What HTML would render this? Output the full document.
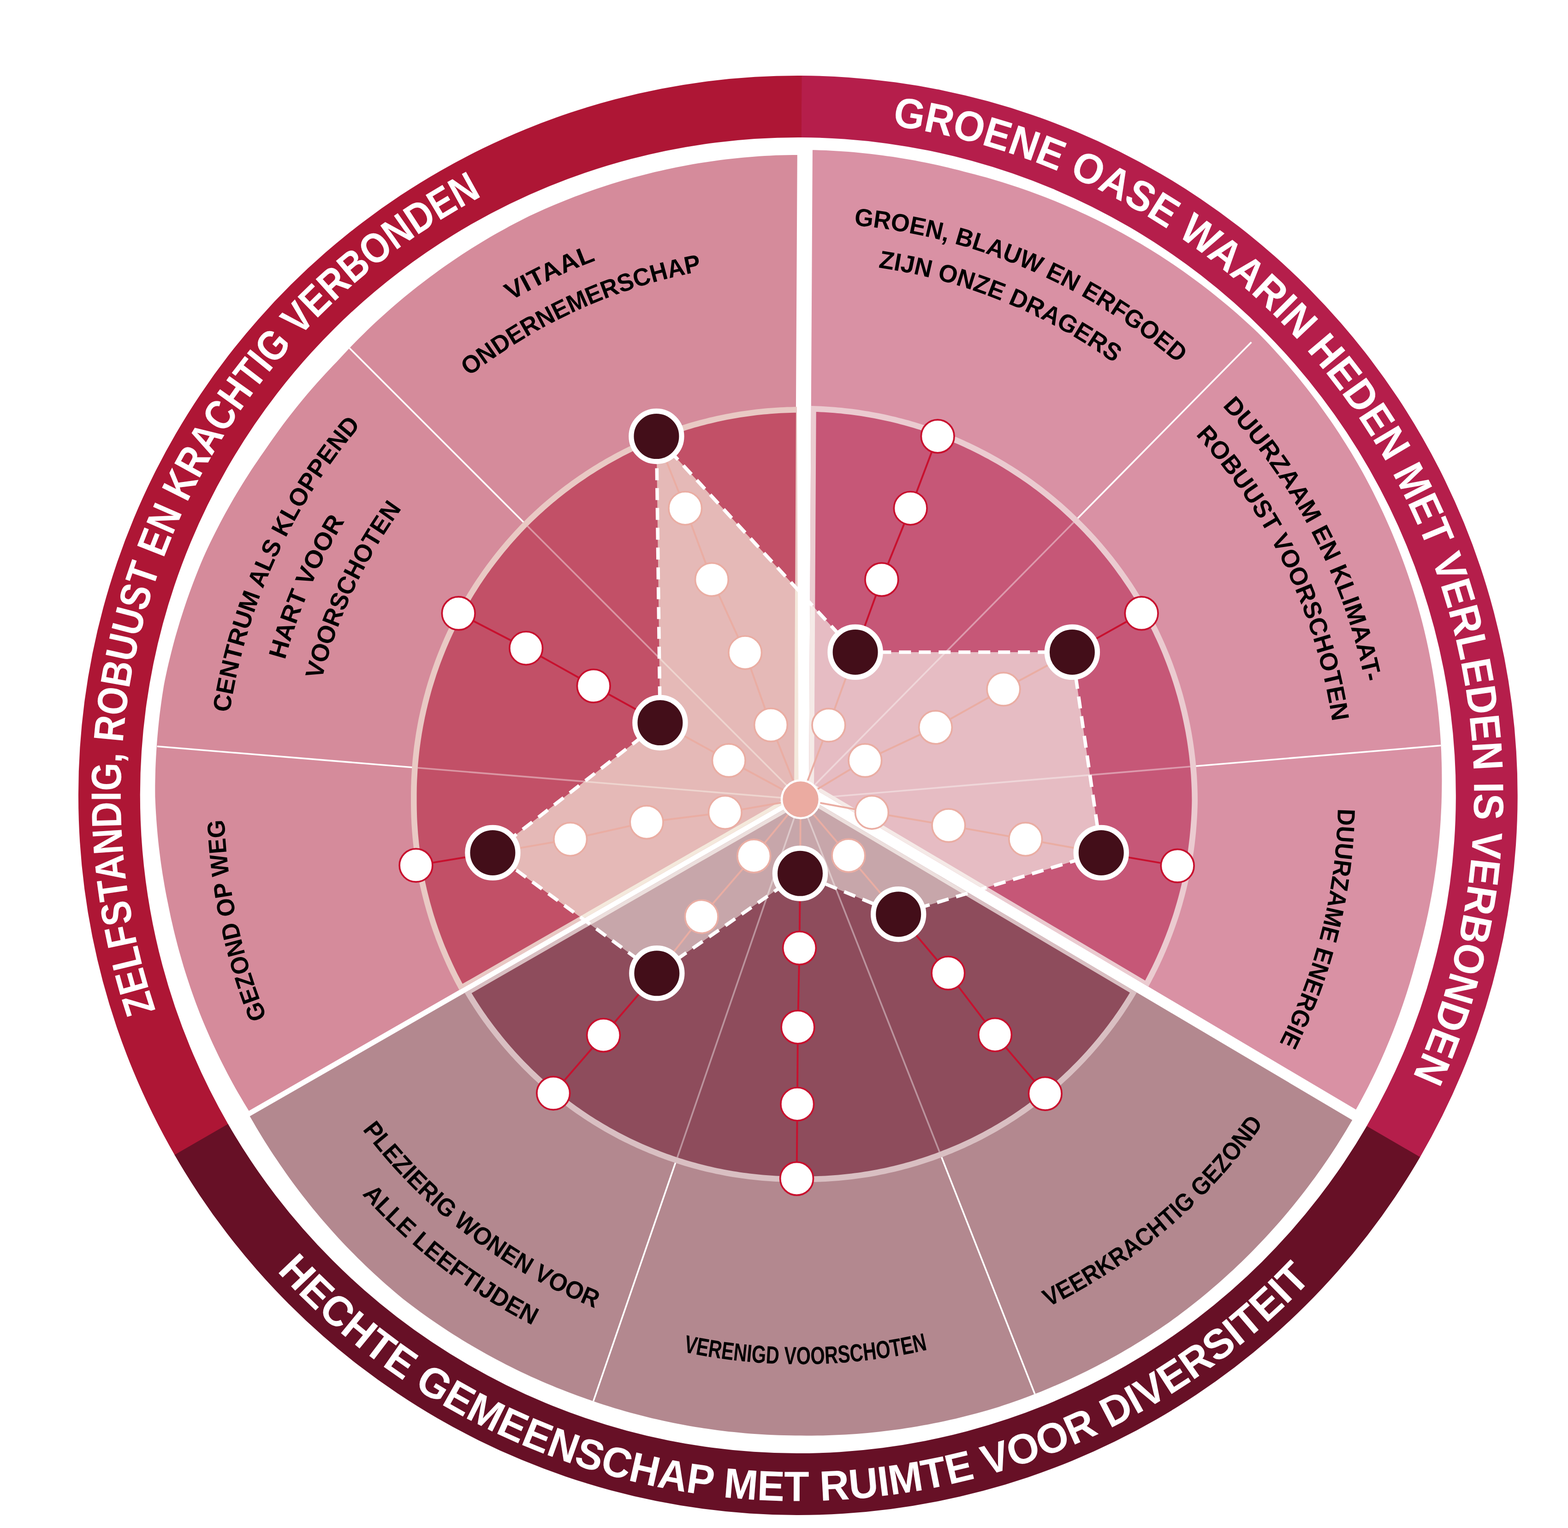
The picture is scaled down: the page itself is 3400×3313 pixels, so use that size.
<!DOCTYPE html>
<html lang="nl"><head><meta charset="utf-8"><title>Voorschoten ambities</title>
<style>html,body{margin:0;padding:0;background:#fff}svg{display:block}text{font-family:"Liberation Sans",Arial,sans-serif;font-weight:bold}</style></head><body>
<svg xmlns="http://www.w3.org/2000/svg" width="3400" height="3313" viewBox="0 0 3400 3313">
<rect width="3400" height="3313" fill="#fff"/>
<g id="ring">
<path d="M379.4,2505.4 A1560.4 1560.4 0 0 1 1739.3,164.1 L1738.5,298 A1426.5 1426.5 0 0 0 495.3,2438.4 Z" fill="#AE1635"/>
<path d="M1738.5,164.1 A1560.4 1560.4 0 0 1 3078.9,2509.4 L2963.2,2442.1 A1426.5 1426.5 0 0 0 1737.8,298 Z" fill="#B51E4B"/>
<path d="M3079.3,2508.7 A1560.4 1560.4 0 0 1 378.5,2504 L494.5,2437.1 A1426.5 1426.5 0 0 0 2963.6,2441.4 Z" fill="#671026"/>
</g>
<g id="pink">
<polygon points="1728.8,336 1718.5,336 1706.5,336.2 1694.4,336.5 1682.3,336.8 1670.3,337.4 1658.2,338 1646.2,338.8 1634.1,339.7 1622.1,340.7 1610.1,341.7 1598.1,342.9 1586.1,344.2 1574.1,345.6 1562.1,347.1 1550.2,348.7 1538.2,350.4 1526.3,352.2 1514.4,354.1 1502.5,356.1 1490.7,358.2 1478.8,360.5 1467,362.8 1455.2,365.2 1443.4,367.7 1431.6,370.4 1419.9,373.1 1408.2,375.9 1396.5,378.9 1384.8,381.9 1373.2,385 1361.6,388.3 1350,391.6 1338.4,395.1 1326.9,398.6 1315.4,402.2 1304,406 1292.6,409.8 1281.2,413.7 1269.8,417.8 1258.5,421.9 1247.3,426.1 1236,430.5 1224.8,434.9 1213.7,439.4 1202.6,444 1191.5,448.8 1180.4,453.6 1169.5,458.5 1158.5,463.5 1147.6,468.6 1136.8,473.9 1126.1,479.4 1115.4,485 1104.8,490.6 1094.3,496.4 1083.7,502.2 1073.3,508.1 1062.9,514.1 1052.5,520.3 1042.2,526.4 1032,532.7 1021.8,539.1 1011.7,545.6 1001.6,552.1 991.6,558.7 981.7,565.5 971.8,572.3 962,579.1 952.2,586.1 942.5,593.2 932.9,600.3 923.3,607.4 913.8,614.7 904.3,622.1 894.9,629.5 885.6,637 876.3,644.6 867.1,652.2 858,660 849,667.8 840,675.7 831.1,683.7 822.2,691.7 813.4,699.8 804.7,708 796.1,716.3 787.6,724.7 779.1,733.1 770.7,741.6 762.4,750.1 754.1,758.8 745.9,767.5 737.8,776.2 729.7,784.9 721.4,793.5 713.2,802.2 705,810.9 697,819.7 689,828.6 681.1,837.5 673.2,846.6 665.5,855.6 657.8,864.8 650.2,874 642.7,883.3 635.2,892.7 627.9,902.1 620.6,911.6 613.4,921.1 606.3,930.7 599.3,940.4 592.3,950.2 585.4,960 578.7,969.8 571.8,979.7 564.9,989.5 558.2,999.4 551.5,1009.3 544.8,1019.3 538.3,1029.4 531.9,1039.5 525.5,1049.7 519.2,1059.9 513,1070.2 506.9,1080.6 500.9,1091 495,1101.5 489.1,1112 483.4,1122.6 477.7,1133.3 472.2,1143.9 466.7,1154.7 461.3,1165.5 456,1176.3 450.8,1187.2 445.7,1198.2 440.8,1209.2 436.1,1220.3 431.5,1231.5 427,1242.7 422.6,1253.9 418.3,1265.2 414.1,1276.6 409.9,1287.9 405.9,1299.3 402,1310.8 398.2,1322.2 394.5,1333.8 390.8,1345.3 387.3,1356.9 383.9,1368.5 380.5,1380.1 377.3,1391.8 374.2,1403.5 371.2,1415.3 368.3,1427 365.4,1438.8 362.7,1450.6 360.1,1462.5 357.6,1474.3 355.3,1486.3 353.4,1498.2 351.5,1510.2 349.8,1522.2 348.2,1534.2 346.6,1546.3 345.2,1558.3 343.9,1570.4 342.7,1582.4 341.6,1594.5 340.6,1606.6 339.7,1618.7 338.9,1630.8 338.2,1642.9 337.6,1655 337.1,1667.1 336.8,1679.2 336.5,1691.3 336.3,1703.4 336.3,1715.6 336.4,1727.7 336.9,1739.8 337.5,1751.9 338.2,1764 339,1776.1 339.9,1788.1 340.9,1800.2 342,1812.2 343.2,1824.3 344.5,1836.3 346,1848.3 347.5,1860.3 349.1,1872.3 350.9,1884.2 352.7,1896.2 354.7,1908.1 356.7,1920 358.8,1931.8 361.1,1943.7 363.5,1955.5 365.9,1967.3 368.3,1979.1 370.8,1990.9 373.5,2002.6 376.2,2014.4 379,2026.1 382,2037.7 385,2049.4 388.1,2061 391.4,2072.6 394.7,2084.1 398.1,2095.7 401.7,2107.2 405.3,2118.6 409.1,2130 412.9,2141.4 416.8,2152.8 420.8,2164.1 425,2175.4 429.2,2186.6 433.5,2197.8 438,2208.9 442.6,2220 447.3,2231.1 452.1,2242.1 456.9,2253 461.9,2263.9 467,2274.8 472.1,2285.6 477.4,2296.4 482.7,2307.1 488.2,2317.8 493.7,2328.4 499.3,2338.9 505,2349.5 510.8,2359.9 516.7,2370.3 522.8,2380.6 528.9,2390.9 535,2401.1 539.6,2408.5 1721.5,1729.8" fill="#D58B9B"/>
<polygon points="2940.2,2405.8 2944.5,2398 2950.3,2387.4 2956,2376.8 2961.7,2366.1 2967.2,2355.4 2972.6,2344.6 2977.9,2333.7 2983.1,2322.9 2988.2,2311.9 2993.3,2301 2998.2,2289.9 3003,2278.9 3007.7,2267.8 3012.4,2256.6 3016.9,2245.5 3021.4,2234.2 3025.7,2223 3029.9,2211.7 3034.1,2200.4 3038.1,2189 3042.1,2177.6 3045.9,2166.2 3049.7,2154.7 3053.3,2143.2 3056.9,2131.7 3060.3,2120.1 3063.7,2108.5 3066.9,2096.9 3070.1,2085.3 3073.4,2073.7 3076.6,2062.1 3079.8,2050.4 3082.8,2038.7 3085.8,2027 3088.6,2015.3 3091.4,2003.5 3094,1991.7 3096.6,1979.9 3099,1968.1 3101.3,1956.2 3103.6,1944.3 3105.7,1932.4 3107.7,1920.5 3109.7,1908.6 3111.5,1896.6 3113.2,1884.6 3114.8,1872.6 3116.3,1860.6 3117.7,1848.6 3119,1836.5 3120.2,1824.5 3121.3,1812.4 3122.3,1800.3 3123.2,1788.3 3124,1776.2 3124.6,1764 3125.2,1751.9 3125.7,1739.8 3126,1727.7 3126.3,1715.5 3126.4,1703.4 3126.5,1691.3 3126.4,1679.1 3126.3,1667 3126,1654.8 3125.6,1642.7 3125.2,1630.5 3124.6,1618.4 3123.9,1606.3 3123.1,1594.1 3122.2,1582 3121.2,1569.9 3120.1,1557.7 3118.9,1545.6 3117.6,1533.5 3116.1,1521.4 3114.6,1509.4 3113,1497.3 3111.2,1485.2 3109.4,1473.2 3107.4,1461.1 3105.4,1449.1 3103.2,1437.1 3100.9,1425.1 3098.6,1413.2 3096.1,1401.2 3093.5,1389.3 3090.8,1377.4 3088,1365.5 3085.1,1353.7 3082,1341.8 3078.8,1330.1 3075.5,1318.3 3072.2,1306.5 3068.7,1294.8 3065.1,1283.2 3061.4,1271.5 3057.6,1259.9 3053.7,1248.3 3049.7,1236.7 3045.6,1225.2 3041.4,1213.7 3037.1,1202.3 3032.7,1190.9 3028.2,1179.5 3023.6,1168.2 3018.9,1156.8 3014.1,1145.6 3009.2,1134.4 3004.2,1123.2 2999.1,1112 2993.9,1101 2988.6,1089.9 2983.2,1078.9 2977.8,1067.9 2972.2,1057 2966.5,1046.2 2960.7,1035.3 2954.9,1024.6 2948.9,1013.9 2942.8,1003.2 2936.6,992.7 2930.3,982.1 2923.9,971.7 2917.4,961.2 2910.8,950.9 2904.2,940.6 2897.4,930.3 2890.6,920.1 2883.7,910 2876.6,899.9 2869.5,889.9 2862.3,880 2855.1,870.1 2847.7,860.3 2840.2,850.5 2832.7,840.8 2825.1,831.2 2817.4,821.6 2809.6,812.1 2801.7,802.7 2793.8,793.3 2785.7,784 2777.6,774.8 2769.4,765.7 2761.1,756.6 2752.8,747.6 2744.3,738.6 2735.8,729.8 2727.1,721.1 2718.2,712.6 2709.2,704.2 2700.1,695.9 2691,687.7 2681.8,679.6 2672.5,671.5 2663.1,663.6 2653.7,655.7 2644.2,647.9 2634.7,640.2 2625.1,632.5 2615.4,625 2605.7,617.5 2595.9,610.2 2586,602.9 2576.1,595.7 2566.1,588.5 2556,581.5 2545.9,574.6 2535.8,567.7 2525.5,561 2515.3,554.3 2504.9,547.7 2494.5,541.3 2484.1,534.9 2473.6,528.6 2463,522.4 2452.4,516.2 2441.8,510.2 2431.1,504.3 2420.3,498.5 2409.5,492.7 2398.7,487.1 2387.8,481.6 2376.8,476.1 2365.8,470.8 2354.8,465.5 2343.7,460.4 2332.6,455.3 2321.4,450.4 2310.2,445.5 2299,440.8 2287.7,436.1 2276.4,431.5 2265,427.1 2253.6,422.7 2242.2,418.5 2230.8,414.3 2219.3,410.2 2207.7,406.3 2196.2,402.4 2184.6,398.7 2173,395 2161.3,391.4 2149.6,388 2137.9,384.6 2126.2,381.4 2114.4,378.3 2102.6,375.2 2090.8,372.2 2079.1,369.1 2067.3,366.2 2055.5,363.3 2043.6,360.5 2031.8,357.8 2019.9,355.2 2008,352.8 1996,350.4 1984.1,348.1 1972.1,346 1960.1,343.9 1948.1,342 1936.1,340.1 1924,338.4 1912,336.7 1899.9,335.2 1887.8,333.8 1875.7,332.5 1863.6,331.2 1851.5,330.1 1839.4,329.1 1827.3,328.2 1815.1,327.4 1803,326.7 1790.8,326.1 1778.7,325.7 1766.5,325.3 1761.9,325.2 1754.1,1703.6" fill="#D991A4"/>
<polygon points="541.7,2420.3 543.4,2423.3 549.4,2433.6 555.4,2444 561.6,2454.3 567.8,2464.5 574.1,2474.7 580.5,2484.8 587,2494.9 593.6,2504.9 600.3,2514.8 607,2524.8 613.8,2534.6 620.7,2544.5 627.6,2554.2 634.7,2563.9 641.8,2573.6 649.1,2583.2 656.4,2592.7 663.8,2602.1 671.2,2611.5 678.8,2620.9 686.4,2630.1 694.2,2639.4 702,2648.5 709.9,2657.6 717.8,2666.6 725.9,2675.5 734,2684.4 742.2,2693.2 750.5,2701.9 758.8,2710.6 767.3,2719.1 775.8,2727.7 784.4,2736.1 793,2744.5 801.8,2752.8 810.6,2761 819.4,2769.1 828.4,2777.2 837.4,2785.2 846.5,2793.1 855.7,2800.9 864.9,2808.7 874.2,2816.4 883.7,2823.8 893.3,2831.1 903,2838.3 912.7,2845.4 922.5,2852.4 932.4,2859.4 942.3,2866.3 952.2,2873.1 962.3,2879.8 972.4,2886.4 982.5,2892.9 992.7,2899.3 1002.9,2905.7 1013.3,2911.9 1023.6,2918.1 1034,2924.1 1044.5,2930.1 1055,2936 1065.6,2941.8 1076.2,2947.5 1086.9,2953.1 1097.6,2958.7 1108.4,2964.1 1119.2,2969.4 1130,2974.7 1140.9,2979.8 1151.9,2984.9 1162.9,2989.8 1173.9,2994.7 1185,2999.4 1196.1,3004.1 1207.2,3008.7 1218.4,3013.1 1229.7,3017.5 1240.9,3021.8 1252.2,3026 1263.5,3030.1 1274.9,3034.1 1286.3,3038.1 1297.7,3041.9 1309.2,3045.7 1320.7,3049.3 1332.2,3052.9 1343.7,3056.3 1355.3,3059.7 1366.9,3062.9 1378.6,3066.1 1390.2,3069.1 1401.9,3072 1413.6,3074.9 1425.4,3077.6 1437.1,3080.3 1448.9,3082.8 1460.7,3085.2 1472.6,3087.5 1484.4,3089.8 1496.3,3091.9 1508.2,3093.9 1520.1,3095.8 1532,3097.6 1543.9,3099.3 1555.9,3101 1567.9,3102.5 1579.8,3103.9 1591.8,3105.1 1603.8,3106.3 1615.8,3107.4 1627.9,3108.4 1639.9,3109.3 1651.9,3110 1664,3110.7 1676,3111.3 1688.1,3111.7 1700.1,3112.1 1712.2,3112.3 1724.3,3112.5 1736.3,3112.6 1748.4,3112.7 1760.5,3112.7 1772.5,3112.6 1784.6,3112.4 1796.7,3112.1 1808.8,3111.6 1820.8,3111.1 1832.9,3110.5 1844.9,3109.7 1857,3108.9 1869.1,3107.9 1881.1,3106.9 1893.1,3105.7 1905.2,3104.5 1917.2,3103.1 1929.2,3101.6 1941.2,3100.1 1953.2,3098.4 1965.1,3096.6 1977.1,3094.7 1989,3092.7 2000.9,3090.6 2012.8,3088.4 2024.7,3086.1 2036.6,3083.7 2048.5,3081.2 2060.3,3078.6 2072.1,3075.9 2083.9,3073 2095.6,3070.1 2107.4,3067.1 2119.1,3064 2130.8,3060.7 2142.4,3057.4 2154.1,3054 2165.7,3050.4 2177.2,3046.6 2188.7,3042.7 2200.1,3038.7 2211.6,3034.7 2223,3030.5 2234.3,3026.2 2245.6,3021.8 2256.9,3017.4 2268.1,3012.8 2279.3,3008.1 2290.5,3003.3 2301.6,2998.5 2312.7,2993.5 2323.7,2988.5 2334.7,2983.3 2345.7,2978.1 2356.6,2972.7 2367.4,2967.3 2378.2,2961.7 2389,2956.1 2399.7,2950.4 2410.4,2944.6 2421,2938.7 2431.5,2932.7 2442,2926.6 2452.5,2920.4 2462.9,2914.1 2473.2,2907.8 2483.5,2901.3 2493.7,2894.8 2503.9,2888.1 2514,2881.4 2524.1,2874.6 2534.1,2867.7 2543.9,2860.6 2553.7,2853.4 2563.4,2846.1 2573.1,2838.7 2582.7,2831.3 2592.2,2823.8 2601.7,2816.2 2611.1,2808.5 2620.4,2800.7 2629.6,2792.8 2638.8,2784.9 2647.9,2776.9 2657,2768.8 2666,2760.6 2674.9,2752.4 2683.7,2744.1 2692.5,2735.7 2701.1,2727.2 2709.7,2718.7 2718.3,2710 2726.7,2701.3 2735.1,2692.6 2743.4,2683.7 2751.7,2674.8 2759.8,2665.8 2767.9,2656.8 2775.9,2647.7 2783.8,2638.5 2791.6,2629.2 2799.3,2619.9 2807,2610.5 2814.6,2601.1 2822.1,2591.5 2829.5,2582 2836.9,2572.3 2844.1,2562.6 2851.3,2552.9 2858.4,2543 2865.4,2533.2 2872.3,2523.2 2879.2,2513.2 2885.9,2503.2 2892.6,2493 2899.1,2482.9 2905.6,2472.6 2912,2462.3 2918.3,2452 2924.5,2441.6 2930.6,2431.2 2932.2,2428.5 1748,1727.5" fill="#B3888F"/>
</g>
<defs>
<clipPath id="cpL"><polygon points="1728.8,336 1718.5,336 1706.5,336.2 1694.4,336.5 1682.3,336.8 1670.3,337.4 1658.2,338 1646.2,338.8 1634.1,339.7 1622.1,340.7 1610.1,341.7 1598.1,342.9 1586.1,344.2 1574.1,345.6 1562.1,347.1 1550.2,348.7 1538.2,350.4 1526.3,352.2 1514.4,354.1 1502.5,356.1 1490.7,358.2 1478.8,360.5 1467,362.8 1455.2,365.2 1443.4,367.7 1431.6,370.4 1419.9,373.1 1408.2,375.9 1396.5,378.9 1384.8,381.9 1373.2,385 1361.6,388.3 1350,391.6 1338.4,395.1 1326.9,398.6 1315.4,402.2 1304,406 1292.6,409.8 1281.2,413.7 1269.8,417.8 1258.5,421.9 1247.3,426.1 1236,430.5 1224.8,434.9 1213.7,439.4 1202.6,444 1191.5,448.8 1180.4,453.6 1169.5,458.5 1158.5,463.5 1147.6,468.6 1136.8,473.9 1126.1,479.4 1115.4,485 1104.8,490.6 1094.3,496.4 1083.7,502.2 1073.3,508.1 1062.9,514.1 1052.5,520.3 1042.2,526.4 1032,532.7 1021.8,539.1 1011.7,545.6 1001.6,552.1 991.6,558.7 981.7,565.5 971.8,572.3 962,579.1 952.2,586.1 942.5,593.2 932.9,600.3 923.3,607.4 913.8,614.7 904.3,622.1 894.9,629.5 885.6,637 876.3,644.6 867.1,652.2 858,660 849,667.8 840,675.7 831.1,683.7 822.2,691.7 813.4,699.8 804.7,708 796.1,716.3 787.6,724.7 779.1,733.1 770.7,741.6 762.4,750.1 754.1,758.8 745.9,767.5 737.8,776.2 729.7,784.9 721.4,793.5 713.2,802.2 705,810.9 697,819.7 689,828.6 681.1,837.5 673.2,846.6 665.5,855.6 657.8,864.8 650.2,874 642.7,883.3 635.2,892.7 627.9,902.1 620.6,911.6 613.4,921.1 606.3,930.7 599.3,940.4 592.3,950.2 585.4,960 578.7,969.8 571.8,979.7 564.9,989.5 558.2,999.4 551.5,1009.3 544.8,1019.3 538.3,1029.4 531.9,1039.5 525.5,1049.7 519.2,1059.9 513,1070.2 506.9,1080.6 500.9,1091 495,1101.5 489.1,1112 483.4,1122.6 477.7,1133.3 472.2,1143.9 466.7,1154.7 461.3,1165.5 456,1176.3 450.8,1187.2 445.7,1198.2 440.8,1209.2 436.1,1220.3 431.5,1231.5 427,1242.7 422.6,1253.9 418.3,1265.2 414.1,1276.6 409.9,1287.9 405.9,1299.3 402,1310.8 398.2,1322.2 394.5,1333.8 390.8,1345.3 387.3,1356.9 383.9,1368.5 380.5,1380.1 377.3,1391.8 374.2,1403.5 371.2,1415.3 368.3,1427 365.4,1438.8 362.7,1450.6 360.1,1462.5 357.6,1474.3 355.3,1486.3 353.4,1498.2 351.5,1510.2 349.8,1522.2 348.2,1534.2 346.6,1546.3 345.2,1558.3 343.9,1570.4 342.7,1582.4 341.6,1594.5 340.6,1606.6 339.7,1618.7 338.9,1630.8 338.2,1642.9 337.6,1655 337.1,1667.1 336.8,1679.2 336.5,1691.3 336.3,1703.4 336.3,1715.6 336.4,1727.7 336.9,1739.8 337.5,1751.9 338.2,1764 339,1776.1 339.9,1788.1 340.9,1800.2 342,1812.2 343.2,1824.3 344.5,1836.3 346,1848.3 347.5,1860.3 349.1,1872.3 350.9,1884.2 352.7,1896.2 354.7,1908.1 356.7,1920 358.8,1931.8 361.1,1943.7 363.5,1955.5 365.9,1967.3 368.3,1979.1 370.8,1990.9 373.5,2002.6 376.2,2014.4 379,2026.1 382,2037.7 385,2049.4 388.1,2061 391.4,2072.6 394.7,2084.1 398.1,2095.7 401.7,2107.2 405.3,2118.6 409.1,2130 412.9,2141.4 416.8,2152.8 420.8,2164.1 425,2175.4 429.2,2186.6 433.5,2197.8 438,2208.9 442.6,2220 447.3,2231.1 452.1,2242.1 456.9,2253 461.9,2263.9 467,2274.8 472.1,2285.6 477.4,2296.4 482.7,2307.1 488.2,2317.8 493.7,2328.4 499.3,2338.9 505,2349.5 510.8,2359.9 516.7,2370.3 522.8,2380.6 528.9,2390.9 535,2401.1 539.6,2408.5 1721.5,1729.8"/></clipPath>
<clipPath id="cdL"><polygon points="1726,894.7 1721.6,894.8 1714.3,895 1707,895.2 1699.8,895.5 1692.5,895.8 1685.2,896.3 1677.9,896.7 1670.7,897.3 1663.4,897.9 1656.1,898.6 1648.9,899.3 1641.7,900.1 1634.4,901 1627.2,901.9 1620,902.9 1612.8,903.9 1605.6,905 1598.4,906.2 1591.2,907.5 1584,908.8 1576.9,910.1 1569.7,911.5 1562.6,913 1555.5,914.6 1548.4,916.2 1541.3,917.9 1534.2,919.6 1527.1,921.4 1520.1,923.2 1513.1,925.2 1506.1,927.1 1499.1,929.2 1492.1,931.3 1485.1,933.4 1478.2,935.7 1471.3,937.9 1464.4,940.3 1457.5,942.7 1450.7,945.1 1443.8,947.7 1437,950.2 1430.2,952.9 1423.5,955.6 1416.7,958.3 1410,961.2 1403.3,964 1396.6,967 1390,969.9 1383.4,973 1376.8,976.1 1370.2,979.3 1363.7,982.5 1357.2,985.7 1350.7,989.1 1344.3,992.5 1337.9,995.9 1331.5,999.4 1325.1,1003 1318.8,1006.6 1312.5,1010.2 1306.2,1013.9 1300,1017.7 1293.8,1021.5 1287.7,1025.4 1281.5,1029.3 1275.4,1033.3 1269.4,1037.4 1263.4,1041.5 1257.4,1045.6 1251.4,1049.8 1245.5,1054 1239.6,1058.3 1233.8,1062.7 1228,1067.1 1222.2,1071.5 1216.5,1076 1210.8,1080.6 1205.2,1085.2 1199.6,1089.8 1194,1094.5 1188.5,1099.3 1183,1104.1 1177.6,1108.9 1172.2,1113.8 1166.8,1118.7 1161.5,1123.7 1156.2,1128.7 1151,1133.8 1145.8,1138.9 1140.7,1144.1 1135.7,1149.3 1130.6,1154.6 1125.7,1159.9 1120.8,1165.3 1115.9,1170.7 1111.1,1176.1 1106.3,1181.6 1101.6,1187.2 1096.9,1192.7 1092.3,1198.3 1087.7,1204 1083.2,1209.7 1078.7,1215.4 1074.2,1221.2 1069.9,1227 1065.5,1232.8 1061.3,1238.7 1057,1244.6 1052.9,1250.6 1048.7,1256.6 1044.7,1262.6 1040.6,1268.6 1036.7,1274.7 1032.8,1280.9 1028.9,1287 1025.1,1293.2 1021.4,1299.4 1017.7,1305.7 1014,1312 1010.4,1318.3 1006.9,1324.6 1003.4,1331 1000,1337.4 996.7,1343.9 993.4,1350.3 990.1,1356.8 986.9,1363.4 983.8,1369.9 980.7,1376.5 977.7,1383.1 974.7,1389.7 971.8,1396.4 969,1403 966.2,1409.7 963.5,1416.5 960.8,1423.2 958.2,1430 955.6,1436.8 953.1,1443.6 950.7,1450.4 948.3,1457.3 946,1464.1 943.8,1471 941.6,1478 939.4,1484.9 937.3,1491.8 935.3,1498.8 933.4,1505.8 931.5,1512.8 929.7,1519.8 927.9,1526.8 926.2,1533.9 924.5,1540.9 923,1548 921.4,1555.1 920,1562.2 918.6,1569.3 917.2,1576.4 916,1583.6 914.7,1590.7 913.6,1597.9 912.5,1605 911.5,1612.2 910.5,1619.4 909.6,1626.6 908.8,1633.7 908,1640.9 907.3,1648.2 906.6,1655.4 906,1662.6 905.5,1669.8 905.1,1677 904.7,1684.3 904.3,1691.5 904,1698.7 903.8,1706 903.7,1713.2 903.6,1720.4 903.6,1727.7 903.6,1734.9 903.6,1742.1 903.7,1749.4 903.8,1756.6 904,1763.8 904.2,1771.1 904.5,1778.3 904.9,1785.5 905.4,1792.8 905.9,1800 906.4,1807.2 907.1,1814.4 907.8,1821.6 908.5,1828.8 909.3,1836 910.2,1843.2 911.2,1850.4 912.2,1857.5 913.2,1864.7 914.4,1871.9 915.5,1879 916.8,1886.1 918.1,1893.3 919.5,1900.4 920.9,1907.5 922.4,1914.6 924,1921.6 925.6,1928.7 927.3,1935.8 929.1,1942.8 930.9,1949.8 932.7,1956.8 934.7,1963.8 936.7,1970.8 938.7,1977.7 940.8,1984.7 943,1991.6 945.2,1998.5 947.5,2005.3 949.9,2012.2 952.3,2019 954.8,2025.9 957.3,2032.7 959.9,2039.4 962.5,2046.2 965.2,2052.9 968,2059.6 970.8,2066.3 973.7,2073 976.7,2079.6 979.7,2086.2 982.7,2092.8 985.8,2099.3 989,2105.9 992.2,2112.4 995.5,2118.8 998.9,2125.3 1002.2,2131.7 1003,2133.1 1722,1720.3"/></clipPath>
<clipPath id="cpR"><polygon points="2940.2,2405.8 2944.5,2398 2950.3,2387.4 2956,2376.8 2961.7,2366.1 2967.2,2355.4 2972.6,2344.6 2977.9,2333.7 2983.1,2322.9 2988.2,2311.9 2993.3,2301 2998.2,2289.9 3003,2278.9 3007.7,2267.8 3012.4,2256.6 3016.9,2245.5 3021.4,2234.2 3025.7,2223 3029.9,2211.7 3034.1,2200.4 3038.1,2189 3042.1,2177.6 3045.9,2166.2 3049.7,2154.7 3053.3,2143.2 3056.9,2131.7 3060.3,2120.1 3063.7,2108.5 3066.9,2096.9 3070.1,2085.3 3073.4,2073.7 3076.6,2062.1 3079.8,2050.4 3082.8,2038.7 3085.8,2027 3088.6,2015.3 3091.4,2003.5 3094,1991.7 3096.6,1979.9 3099,1968.1 3101.3,1956.2 3103.6,1944.3 3105.7,1932.4 3107.7,1920.5 3109.7,1908.6 3111.5,1896.6 3113.2,1884.6 3114.8,1872.6 3116.3,1860.6 3117.7,1848.6 3119,1836.5 3120.2,1824.5 3121.3,1812.4 3122.3,1800.3 3123.2,1788.3 3124,1776.2 3124.6,1764 3125.2,1751.9 3125.7,1739.8 3126,1727.7 3126.3,1715.5 3126.4,1703.4 3126.5,1691.3 3126.4,1679.1 3126.3,1667 3126,1654.8 3125.6,1642.7 3125.2,1630.5 3124.6,1618.4 3123.9,1606.3 3123.1,1594.1 3122.2,1582 3121.2,1569.9 3120.1,1557.7 3118.9,1545.6 3117.6,1533.5 3116.1,1521.4 3114.6,1509.4 3113,1497.3 3111.2,1485.2 3109.4,1473.2 3107.4,1461.1 3105.4,1449.1 3103.2,1437.1 3100.9,1425.1 3098.6,1413.2 3096.1,1401.2 3093.5,1389.3 3090.8,1377.4 3088,1365.5 3085.1,1353.7 3082,1341.8 3078.8,1330.1 3075.5,1318.3 3072.2,1306.5 3068.7,1294.8 3065.1,1283.2 3061.4,1271.5 3057.6,1259.9 3053.7,1248.3 3049.7,1236.7 3045.6,1225.2 3041.4,1213.7 3037.1,1202.3 3032.7,1190.9 3028.2,1179.5 3023.6,1168.2 3018.9,1156.8 3014.1,1145.6 3009.2,1134.4 3004.2,1123.2 2999.1,1112 2993.9,1101 2988.6,1089.9 2983.2,1078.9 2977.8,1067.9 2972.2,1057 2966.5,1046.2 2960.7,1035.3 2954.9,1024.6 2948.9,1013.9 2942.8,1003.2 2936.6,992.7 2930.3,982.1 2923.9,971.7 2917.4,961.2 2910.8,950.9 2904.2,940.6 2897.4,930.3 2890.6,920.1 2883.7,910 2876.6,899.9 2869.5,889.9 2862.3,880 2855.1,870.1 2847.7,860.3 2840.2,850.5 2832.7,840.8 2825.1,831.2 2817.4,821.6 2809.6,812.1 2801.7,802.7 2793.8,793.3 2785.7,784 2777.6,774.8 2769.4,765.7 2761.1,756.6 2752.8,747.6 2744.3,738.6 2735.8,729.8 2727.1,721.1 2718.2,712.6 2709.2,704.2 2700.1,695.9 2691,687.7 2681.8,679.6 2672.5,671.5 2663.1,663.6 2653.7,655.7 2644.2,647.9 2634.7,640.2 2625.1,632.5 2615.4,625 2605.7,617.5 2595.9,610.2 2586,602.9 2576.1,595.7 2566.1,588.5 2556,581.5 2545.9,574.6 2535.8,567.7 2525.5,561 2515.3,554.3 2504.9,547.7 2494.5,541.3 2484.1,534.9 2473.6,528.6 2463,522.4 2452.4,516.2 2441.8,510.2 2431.1,504.3 2420.3,498.5 2409.5,492.7 2398.7,487.1 2387.8,481.6 2376.8,476.1 2365.8,470.8 2354.8,465.5 2343.7,460.4 2332.6,455.3 2321.4,450.4 2310.2,445.5 2299,440.8 2287.7,436.1 2276.4,431.5 2265,427.1 2253.6,422.7 2242.2,418.5 2230.8,414.3 2219.3,410.2 2207.7,406.3 2196.2,402.4 2184.6,398.7 2173,395 2161.3,391.4 2149.6,388 2137.9,384.6 2126.2,381.4 2114.4,378.3 2102.6,375.2 2090.8,372.2 2079.1,369.1 2067.3,366.2 2055.5,363.3 2043.6,360.5 2031.8,357.8 2019.9,355.2 2008,352.8 1996,350.4 1984.1,348.1 1972.1,346 1960.1,343.9 1948.1,342 1936.1,340.1 1924,338.4 1912,336.7 1899.9,335.2 1887.8,333.8 1875.7,332.5 1863.6,331.2 1851.5,330.1 1839.4,329.1 1827.3,328.2 1815.1,327.4 1803,326.7 1790.8,326.1 1778.7,325.7 1766.5,325.3 1761.9,325.2 1754.1,1703.6"/></clipPath>
<clipPath id="cdR"><polygon points="2483.1,2125.9 2484.6,2123 2488,2116.6 2491.4,2110 2494.7,2103.5 2498,2096.9 2501.2,2090.3 2504.3,2083.7 2507.4,2077 2510.4,2070.3 2513.4,2063.6 2516.3,2056.9 2519.2,2050.1 2522,2043.3 2524.7,2036.5 2527.4,2029.7 2530,2022.8 2532.6,2015.9 2535.1,2009 2537.5,2002.1 2539.9,1995.1 2542.2,1988.2 2544.5,1981.2 2546.7,1974.1 2548.8,1967.1 2550.9,1960.1 2552.9,1953 2554.9,1945.9 2556.8,1938.8 2558.6,1931.7 2560.4,1924.5 2562.1,1917.4 2563.8,1910.2 2565.3,1903 2566.9,1895.8 2568.3,1888.6 2569.7,1881.4 2571.1,1874.1 2572.3,1866.9 2573.5,1859.6 2574.7,1852.3 2575.8,1845.1 2576.8,1837.8 2577.7,1830.5 2578.6,1823.2 2579.5,1815.8 2580.2,1808.5 2580.9,1801.2 2581.6,1793.8 2582.1,1786.5 2582.7,1779.1 2583.1,1771.8 2583.5,1764.4 2583.8,1757 2584.1,1749.7 2584.3,1742.3 2584.4,1734.9 2584.3,1727.6 2584.2,1720.2 2584,1712.8 2583.7,1705.4 2583.4,1698.1 2583,1690.7 2582.6,1683.4 2582.1,1676 2581.5,1668.7 2580.8,1661.3 2580.1,1654 2579.3,1646.7 2578.5,1639.3 2577.6,1632 2576.6,1624.7 2575.6,1617.4 2574.5,1610.1 2573.4,1602.9 2572.1,1595.6 2570.9,1588.3 2569.5,1581.1 2568.1,1573.9 2566.6,1566.7 2565.1,1559.5 2563.5,1552.3 2561.9,1545.1 2560.1,1537.9 2558.4,1530.8 2556.5,1523.7 2554.6,1516.6 2552.7,1509.5 2550.6,1502.4 2548.5,1495.3 2546.4,1488.3 2544.2,1481.3 2541.9,1474.3 2539.6,1467.3 2537.2,1460.3 2534.7,1453.4 2532.2,1446.5 2529.6,1439.6 2527,1432.7 2524.3,1425.9 2521.6,1419.1 2518.8,1412.3 2515.9,1405.5 2513,1398.8 2510,1392 2506.9,1385.3 2503.8,1378.7 2500.7,1372 2497.5,1365.4 2494.2,1358.9 2490.9,1352.3 2487.5,1345.8 2484,1339.3 2480.5,1332.8 2477,1326.4 2473.4,1320 2469.7,1313.6 2466,1307.3 2462.2,1301 2458.4,1294.7 2454.5,1288.5 2450.6,1282.3 2446.6,1276.1 2442.5,1270 2438.4,1263.9 2434.3,1257.9 2430.1,1251.8 2425.8,1245.9 2421.5,1239.9 2417.2,1234 2412.7,1228.1 2408.3,1222.3 2403.8,1216.5 2399.2,1210.8 2394.6,1205.1 2390,1199.4 2385.3,1193.8 2380.5,1188.2 2375.7,1182.6 2370.9,1177.1 2366,1171.7 2361,1166.2 2356,1160.9 2351,1155.5 2345.9,1150.3 2340.8,1145 2335.6,1139.8 2330.4,1134.7 2325.1,1129.5 2319.9,1124.5 2314.5,1119.4 2309.1,1114.5 2303.7,1109.5 2298.3,1104.6 2292.8,1099.8 2287.2,1095 2281.6,1090.3 2276,1085.6 2270.3,1080.9 2264.6,1076.3 2258.9,1071.8 2253.1,1067.3 2247.3,1062.8 2241.4,1058.4 2235.5,1054.1 2229.6,1049.8 2223.6,1045.6 2217.6,1041.4 2211.5,1037.3 2205.4,1033.2 2199.3,1029.2 2193.2,1025.2 2187,1021.3 2180.8,1017.4 2174.5,1013.6 2168.2,1009.8 2161.9,1006.1 2155.6,1002.5 2149.2,998.9 2142.8,995.3 2136.3,991.9 2129.8,988.4 2123.3,985.1 2116.8,981.8 2110.3,978.5 2103.7,975.3 2097.1,972.2 2090.4,969.1 2083.8,966.1 2077.1,963.1 2070.3,960.2 2063.6,957.4 2056.8,954.6 2050,951.8 2043.2,949.2 2036.4,946.6 2029.5,944 2022.7,941.5 2015.8,939.1 2008.8,936.7 2001.9,934.4 1994.9,932.1 1988,930 1981,927.8 1973.9,925.8 1966.9,923.8 1959.8,921.8 1952.8,919.9 1945.7,918.1 1938.6,916.3 1931.5,914.6 1924.4,913 1917.2,911.4 1910.1,909.9 1902.9,908.5 1895.7,907.1 1888.5,905.7 1881.3,904.5 1874.1,903.3 1866.9,902.1 1859.7,901.1 1852.4,900.1 1845.2,899.1 1837.9,898.2 1830.6,897.4 1823.4,896.6 1816.1,895.9 1808.8,895.3 1801.5,894.7 1794.2,894.2 1787,893.8 1779.7,893.4 1772.4,893.1 1769.7,893 1765.1,1700.8"/></clipPath>
<clipPath id="cpB"><polygon points="541.7,2420.3 543.4,2423.3 549.4,2433.6 555.4,2444 561.6,2454.3 567.8,2464.5 574.1,2474.7 580.5,2484.8 587,2494.9 593.6,2504.9 600.3,2514.8 607,2524.8 613.8,2534.6 620.7,2544.5 627.6,2554.2 634.7,2563.9 641.8,2573.6 649.1,2583.2 656.4,2592.7 663.8,2602.1 671.2,2611.5 678.8,2620.9 686.4,2630.1 694.2,2639.4 702,2648.5 709.9,2657.6 717.8,2666.6 725.9,2675.5 734,2684.4 742.2,2693.2 750.5,2701.9 758.8,2710.6 767.3,2719.1 775.8,2727.7 784.4,2736.1 793,2744.5 801.8,2752.8 810.6,2761 819.4,2769.1 828.4,2777.2 837.4,2785.2 846.5,2793.1 855.7,2800.9 864.9,2808.7 874.2,2816.4 883.7,2823.8 893.3,2831.1 903,2838.3 912.7,2845.4 922.5,2852.4 932.4,2859.4 942.3,2866.3 952.2,2873.1 962.3,2879.8 972.4,2886.4 982.5,2892.9 992.7,2899.3 1002.9,2905.7 1013.3,2911.9 1023.6,2918.1 1034,2924.1 1044.5,2930.1 1055,2936 1065.6,2941.8 1076.2,2947.5 1086.9,2953.1 1097.6,2958.7 1108.4,2964.1 1119.2,2969.4 1130,2974.7 1140.9,2979.8 1151.9,2984.9 1162.9,2989.8 1173.9,2994.7 1185,2999.4 1196.1,3004.1 1207.2,3008.7 1218.4,3013.1 1229.7,3017.5 1240.9,3021.8 1252.2,3026 1263.5,3030.1 1274.9,3034.1 1286.3,3038.1 1297.7,3041.9 1309.2,3045.7 1320.7,3049.3 1332.2,3052.9 1343.7,3056.3 1355.3,3059.7 1366.9,3062.9 1378.6,3066.1 1390.2,3069.1 1401.9,3072 1413.6,3074.9 1425.4,3077.6 1437.1,3080.3 1448.9,3082.8 1460.7,3085.2 1472.6,3087.5 1484.4,3089.8 1496.3,3091.9 1508.2,3093.9 1520.1,3095.8 1532,3097.6 1543.9,3099.3 1555.9,3101 1567.9,3102.5 1579.8,3103.9 1591.8,3105.1 1603.8,3106.3 1615.8,3107.4 1627.9,3108.4 1639.9,3109.3 1651.9,3110 1664,3110.7 1676,3111.3 1688.1,3111.7 1700.1,3112.1 1712.2,3112.3 1724.3,3112.5 1736.3,3112.6 1748.4,3112.7 1760.5,3112.7 1772.5,3112.6 1784.6,3112.4 1796.7,3112.1 1808.8,3111.6 1820.8,3111.1 1832.9,3110.5 1844.9,3109.7 1857,3108.9 1869.1,3107.9 1881.1,3106.9 1893.1,3105.7 1905.2,3104.5 1917.2,3103.1 1929.2,3101.6 1941.2,3100.1 1953.2,3098.4 1965.1,3096.6 1977.1,3094.7 1989,3092.7 2000.9,3090.6 2012.8,3088.4 2024.7,3086.1 2036.6,3083.7 2048.5,3081.2 2060.3,3078.6 2072.1,3075.9 2083.9,3073 2095.6,3070.1 2107.4,3067.1 2119.1,3064 2130.8,3060.7 2142.4,3057.4 2154.1,3054 2165.7,3050.4 2177.2,3046.6 2188.7,3042.7 2200.1,3038.7 2211.6,3034.7 2223,3030.5 2234.3,3026.2 2245.6,3021.8 2256.9,3017.4 2268.1,3012.8 2279.3,3008.1 2290.5,3003.3 2301.6,2998.5 2312.7,2993.5 2323.7,2988.5 2334.7,2983.3 2345.7,2978.1 2356.6,2972.7 2367.4,2967.3 2378.2,2961.7 2389,2956.1 2399.7,2950.4 2410.4,2944.6 2421,2938.7 2431.5,2932.7 2442,2926.6 2452.5,2920.4 2462.9,2914.1 2473.2,2907.8 2483.5,2901.3 2493.7,2894.8 2503.9,2888.1 2514,2881.4 2524.1,2874.6 2534.1,2867.7 2543.9,2860.6 2553.7,2853.4 2563.4,2846.1 2573.1,2838.7 2582.7,2831.3 2592.2,2823.8 2601.7,2816.2 2611.1,2808.5 2620.4,2800.7 2629.6,2792.8 2638.8,2784.9 2647.9,2776.9 2657,2768.8 2666,2760.6 2674.9,2752.4 2683.7,2744.1 2692.5,2735.7 2701.1,2727.2 2709.7,2718.7 2718.3,2710 2726.7,2701.3 2735.1,2692.6 2743.4,2683.7 2751.7,2674.8 2759.8,2665.8 2767.9,2656.8 2775.9,2647.7 2783.8,2638.5 2791.6,2629.2 2799.3,2619.9 2807,2610.5 2814.6,2601.1 2822.1,2591.5 2829.5,2582 2836.9,2572.3 2844.1,2562.6 2851.3,2552.9 2858.4,2543 2865.4,2533.2 2872.3,2523.2 2879.2,2513.2 2885.9,2503.2 2892.6,2493 2899.1,2482.9 2905.6,2472.6 2912,2462.3 2918.3,2452 2924.5,2441.6 2930.6,2431.2 2932.2,2428.5 1748,1727.5"/></clipPath>
<clipPath id="cdB"><polygon points="1022.6,2153.3 1026.2,2159.2 1030,2165.3 1033.9,2171.4 1037.8,2177.5 1041.7,2183.5 1045.7,2189.4 1049.8,2195.4 1053.9,2201.3 1058,2207.2 1062.3,2213 1066.5,2218.8 1070.8,2224.5 1075.2,2230.2 1079.6,2235.9 1084.1,2241.6 1088.6,2247.2 1093.1,2252.7 1097.7,2258.2 1102.4,2263.7 1107.1,2269.2 1111.8,2274.5 1116.6,2279.9 1121.4,2285.2 1126.3,2290.5 1131.2,2295.7 1136.2,2300.9 1141.2,2306 1146.3,2311.1 1151.4,2316.2 1156.5,2321.2 1161.7,2326.1 1166.9,2331 1172.2,2335.9 1177.5,2340.7 1182.9,2345.5 1188.3,2350.2 1193.7,2354.9 1199.2,2359.5 1204.7,2364.1 1210.3,2368.7 1215.9,2373.1 1221.5,2377.6 1227.2,2382 1232.9,2386.3 1238.6,2390.6 1244.4,2394.8 1250.2,2399 1256.1,2403.1 1262,2407.2 1267.9,2411.3 1273.8,2415.2 1279.8,2419.2 1285.8,2423 1291.9,2426.9 1298,2430.6 1304.1,2434.3 1310.3,2438 1316.5,2441.6 1322.7,2445.2 1328.9,2448.6 1335.2,2452.1 1341.5,2455.4 1347.9,2458.8 1354.2,2462 1360.6,2465.2 1367,2468.4 1373.5,2471.5 1380,2474.5 1386.5,2477.5 1393,2480.4 1399.5,2483.2 1406.1,2486 1412.7,2488.8 1419.3,2491.5 1426,2494.1 1432.6,2496.7 1439.3,2499.2 1446,2501.7 1452.8,2504.1 1459.5,2506.4 1466.3,2508.7 1473.1,2510.9 1479.9,2513.1 1486.7,2515.2 1493.5,2517.2 1500.4,2519.2 1507.2,2521.1 1514.1,2523 1521,2524.8 1527.9,2526.5 1534.9,2528.2 1541.8,2529.8 1548.8,2531.4 1555.7,2532.9 1562.7,2534.3 1569.7,2535.7 1576.7,2537 1583.7,2538.3 1590.8,2539.5 1597.8,2540.6 1604.8,2541.7 1611.9,2542.7 1618.9,2543.6 1626,2544.5 1633.1,2545.3 1640.1,2546.1 1647.2,2546.8 1654.3,2547.5 1661.4,2548 1668.5,2548.6 1675.6,2549 1682.7,2549.4 1689.8,2549.7 1696.9,2550 1704,2550.2 1711.1,2550.4 1718.2,2550.5 1725.3,2550.5 1732.4,2550.4 1739.6,2550.4 1746.7,2550.5 1753.8,2550.5 1760.9,2550.4 1768,2550.2 1775.1,2550 1782.2,2549.7 1789.3,2549.4 1796.4,2549 1803.5,2548.6 1810.6,2548 1817.7,2547.5 1824.8,2546.8 1831.9,2546.1 1838.9,2545.3 1846,2544.5 1853.1,2543.6 1860.1,2542.7 1867.2,2541.7 1874.2,2540.6 1881.2,2539.5 1888.3,2538.3 1895.3,2537 1902.3,2535.7 1909.3,2534.3 1916.3,2532.9 1923.2,2531.4 1930.2,2529.8 1937.1,2528.2 1944.1,2526.5 1951,2524.8 1957.9,2523 1964.8,2521.1 1971.6,2519.2 1978.5,2517.2 1985.3,2515.2 1992.1,2513.1 1998.9,2510.9 2005.7,2508.7 2012.5,2506.4 2019.2,2504.1 2026,2501.7 2032.7,2499.2 2039.4,2496.7 2046,2494.1 2052.7,2491.5 2059.3,2488.8 2065.9,2486 2072.5,2483.2 2079,2480.4 2085.5,2477.5 2092,2474.5 2098.5,2471.5 2105,2468.4 2111.4,2465.2 2117.8,2462 2124.1,2458.8 2130.5,2455.4 2136.8,2452.1 2143.1,2448.6 2149.3,2445.2 2155.5,2441.6 2161.7,2438 2167.9,2434.3 2174,2430.6 2180.1,2426.9 2186.2,2423 2192.2,2419.2 2198.2,2415.2 2204.1,2411.3 2210,2407.2 2215.9,2403.1 2221.8,2399 2227.6,2394.8 2233.4,2390.6 2239.1,2386.3 2244.8,2382 2250.5,2377.6 2256.1,2373.1 2261.7,2368.7 2267.3,2364.1 2272.8,2359.5 2278.3,2354.9 2283.7,2350.2 2289.1,2345.5 2294.5,2340.7 2299.8,2335.9 2305.1,2331 2310.3,2326.1 2315.5,2321.2 2320.6,2316.2 2325.7,2311.1 2330.8,2306 2335.8,2300.9 2340.8,2295.7 2345.7,2290.5 2350.6,2285.2 2355.4,2279.9 2360.2,2274.5 2364.9,2269.2 2369.6,2263.7 2374.3,2258.2 2378.9,2252.7 2383.4,2247.2 2387.9,2241.6 2392.4,2235.9 2396.8,2230.2 2401.2,2224.5 2405.5,2218.8 2409.7,2213 2414,2207.2 2418.1,2201.3 2422.2,2195.4 2426.3,2189.4 2430.3,2183.5 2434.2,2177.5 2438.1,2171.4 2442,2165.3 2445.8,2159.2 2449.5,2153.1 2450,2152.3 1748,1736.8"/></clipPath>
</defs>
<g id="sublines" stroke="#fff" stroke-width="3.6" fill="none">
<line x1="1736" y1="1733" x2="749.6" y2="746.6" clip-path="url(#cpL)"/>
<line x1="1736" y1="1733" x2="340.7" y2="1618.3" clip-path="url(#cpL)"/>
<line x1="1736" y1="1733" x2="2713.4" y2="741.9" clip-path="url(#cpR)"/>
<line x1="1736" y1="1733" x2="3126.1" y2="1616.3" clip-path="url(#cpR)"/>
<line x1="1736" y1="1733" x2="1285.1" y2="3042.5" clip-path="url(#cpB)"/>
<line x1="1736" y1="1733" x2="2245.4" y2="3026.3" clip-path="url(#cpB)"/>
</g>
<g id="dark">
<polygon points="1727.9,882.1 1721.4,882.2 1714,882.4 1706.6,882.6 1699.2,882.9 1691.8,883.3 1684.4,883.7 1677.1,884.2 1669.7,884.7 1662.3,885.3 1654.9,886 1647.6,886.8 1640.2,887.6 1632.9,888.5 1625.6,889.4 1618.2,890.4 1610.9,891.5 1603.6,892.6 1596.3,893.8 1589,895 1581.7,896.4 1574.5,897.7 1567.2,899.2 1560,900.7 1552.8,902.3 1545.6,903.9 1538.4,905.6 1531.2,907.4 1524,909.2 1516.9,911.1 1509.7,913 1502.6,915 1495.5,917.1 1488.4,919.2 1481.4,921.4 1474.3,923.7 1467.3,926 1460.3,928.4 1453.3,930.8 1446.4,933.3 1439.4,935.9 1432.5,938.5 1425.6,941.2 1418.8,943.9 1411.9,946.7 1405.1,949.5 1398.3,952.5 1391.5,955.4 1384.8,958.5 1378.1,961.6 1371.4,964.7 1364.7,967.9 1358.1,971.2 1351.5,974.5 1344.9,977.9 1338.4,981.3 1331.9,984.8 1325.4,988.4 1318.9,992 1312.5,995.6 1306.1,999.4 1299.8,1003.1 1293.5,1007 1287.2,1010.8 1280.9,1014.8 1274.7,1018.8 1268.5,1022.8 1262.4,1026.9 1256.2,1031.1 1250.2,1035.3 1244.1,1039.5 1238.1,1043.8 1232.2,1048.2 1226.2,1052.6 1220.3,1057.1 1214.5,1061.6 1208.7,1066.2 1202.9,1070.8 1197.2,1075.4 1191.5,1080.2 1185.8,1084.9 1180.2,1089.7 1174.7,1094.6 1169.2,1099.5 1163.7,1104.5 1158.2,1109.5 1152.9,1114.5 1147.5,1119.6 1142.2,1124.8 1136.9,1130 1131.8,1135.2 1126.6,1140.5 1121.5,1145.9 1116.5,1151.3 1111.5,1156.7 1106.6,1162.2 1101.7,1167.8 1096.8,1173.3 1092,1178.9 1087.3,1184.6 1082.6,1190.3 1077.9,1196 1073.3,1201.8 1068.8,1207.6 1064.3,1213.5 1059.8,1219.4 1055.4,1225.3 1051.1,1231.3 1046.8,1237.3 1042.6,1243.3 1038.4,1249.4 1034.2,1255.5 1030.2,1261.6 1026.1,1267.8 1022.2,1274 1018.3,1280.3 1014.4,1286.6 1010.6,1292.9 1006.8,1299.2 1003.1,1305.6 999.5,1312 995.9,1318.5 992.4,1325 988.9,1331.5 985.5,1338 982.2,1344.6 978.9,1351.2 975.6,1357.8 972.4,1364.4 969.3,1371.1 966.2,1377.8 963.2,1384.5 960.3,1391.3 957.4,1398.1 954.6,1404.9 951.8,1411.7 949.1,1418.5 946.4,1425.4 943.8,1432.3 941.3,1439.2 938.8,1446.2 936.4,1453.1 934.1,1460.1 931.8,1467.1 929.6,1474.1 927.4,1481.1 925.3,1488.2 923.2,1495.3 921.3,1502.4 919.3,1509.5 917.5,1516.6 915.7,1523.7 914,1530.9 912.3,1538 910.7,1545.2 909.1,1552.4 907.6,1559.6 906.2,1566.8 904.9,1574.1 903.6,1581.3 902.3,1588.5 901.2,1595.8 900.1,1603.1 899,1610.4 898,1617.6 897.1,1624.9 896.3,1632.2 895.5,1639.6 894.7,1646.9 894.1,1654.2 893.5,1661.5 893,1668.8 892.5,1676.2 892.1,1683.5 891.7,1690.9 891.5,1698.2 891.2,1705.5 891.1,1712.9 891,1720.2 891,1727.6 891,1734.9 891,1742.3 891.1,1749.6 891.2,1757 891.4,1764.3 891.6,1771.6 892,1779 892.3,1786.3 892.8,1793.7 893.3,1801 893.9,1808.3 894.5,1815.6 895.2,1823 896,1830.3 896.8,1837.6 897.7,1844.9 898.7,1852.2 899.7,1859.4 900.8,1866.7 901.9,1874 903.1,1881.2 904.4,1888.5 905.8,1895.7 907.2,1902.9 908.6,1910.1 910.1,1917.3 911.7,1924.5 913.4,1931.7 915.1,1938.8 916.9,1946 918.7,1953.1 920.6,1960.2 922.6,1967.3 924.6,1974.4 926.7,1981.4 928.8,1988.5 931,1995.5 933.3,2002.5 935.6,2009.5 938,2016.4 940.5,2023.4 943,2030.3 945.5,2037.2 948.2,2044.1 950.9,2050.9 953.6,2057.7 956.4,2064.5 959.3,2071.3 962.2,2078.1 965.2,2084.8 968.2,2091.5 971.3,2098.2 974.5,2104.9 977.7,2111.5 981,2118.1 984.3,2124.7 987.7,2131.2 991.2,2137.7 994.7,2144.2 995.9,2146.4 1731.4,1724.1" fill="#E9C9C4"/>
<polygon points="1726,894.7 1721.6,894.8 1714.3,895 1707,895.2 1699.8,895.5 1692.5,895.8 1685.2,896.3 1677.9,896.7 1670.7,897.3 1663.4,897.9 1656.1,898.6 1648.9,899.3 1641.7,900.1 1634.4,901 1627.2,901.9 1620,902.9 1612.8,903.9 1605.6,905 1598.4,906.2 1591.2,907.5 1584,908.8 1576.9,910.1 1569.7,911.5 1562.6,913 1555.5,914.6 1548.4,916.2 1541.3,917.9 1534.2,919.6 1527.1,921.4 1520.1,923.2 1513.1,925.2 1506.1,927.1 1499.1,929.2 1492.1,931.3 1485.1,933.4 1478.2,935.7 1471.3,937.9 1464.4,940.3 1457.5,942.7 1450.7,945.1 1443.8,947.7 1437,950.2 1430.2,952.9 1423.5,955.6 1416.7,958.3 1410,961.2 1403.3,964 1396.6,967 1390,969.9 1383.4,973 1376.8,976.1 1370.2,979.3 1363.7,982.5 1357.2,985.7 1350.7,989.1 1344.3,992.5 1337.9,995.9 1331.5,999.4 1325.1,1003 1318.8,1006.6 1312.5,1010.2 1306.2,1013.9 1300,1017.7 1293.8,1021.5 1287.7,1025.4 1281.5,1029.3 1275.4,1033.3 1269.4,1037.4 1263.4,1041.5 1257.4,1045.6 1251.4,1049.8 1245.5,1054 1239.6,1058.3 1233.8,1062.7 1228,1067.1 1222.2,1071.5 1216.5,1076 1210.8,1080.6 1205.2,1085.2 1199.6,1089.8 1194,1094.5 1188.5,1099.3 1183,1104.1 1177.6,1108.9 1172.2,1113.8 1166.8,1118.7 1161.5,1123.7 1156.2,1128.7 1151,1133.8 1145.8,1138.9 1140.7,1144.1 1135.7,1149.3 1130.6,1154.6 1125.7,1159.9 1120.8,1165.3 1115.9,1170.7 1111.1,1176.1 1106.3,1181.6 1101.6,1187.2 1096.9,1192.7 1092.3,1198.3 1087.7,1204 1083.2,1209.7 1078.7,1215.4 1074.2,1221.2 1069.9,1227 1065.5,1232.8 1061.3,1238.7 1057,1244.6 1052.9,1250.6 1048.7,1256.6 1044.7,1262.6 1040.6,1268.6 1036.7,1274.7 1032.8,1280.9 1028.9,1287 1025.1,1293.2 1021.4,1299.4 1017.7,1305.7 1014,1312 1010.4,1318.3 1006.9,1324.6 1003.4,1331 1000,1337.4 996.7,1343.9 993.4,1350.3 990.1,1356.8 986.9,1363.4 983.8,1369.9 980.7,1376.5 977.7,1383.1 974.7,1389.7 971.8,1396.4 969,1403 966.2,1409.7 963.5,1416.5 960.8,1423.2 958.2,1430 955.6,1436.8 953.1,1443.6 950.7,1450.4 948.3,1457.3 946,1464.1 943.8,1471 941.6,1478 939.4,1484.9 937.3,1491.8 935.3,1498.8 933.4,1505.8 931.5,1512.8 929.7,1519.8 927.9,1526.8 926.2,1533.9 924.5,1540.9 923,1548 921.4,1555.1 920,1562.2 918.6,1569.3 917.2,1576.4 916,1583.6 914.7,1590.7 913.6,1597.9 912.5,1605 911.5,1612.2 910.5,1619.4 909.6,1626.6 908.8,1633.7 908,1640.9 907.3,1648.2 906.6,1655.4 906,1662.6 905.5,1669.8 905.1,1677 904.7,1684.3 904.3,1691.5 904,1698.7 903.8,1706 903.7,1713.2 903.6,1720.4 903.6,1727.7 903.6,1734.9 903.6,1742.1 903.7,1749.4 903.8,1756.6 904,1763.8 904.2,1771.1 904.5,1778.3 904.9,1785.5 905.4,1792.8 905.9,1800 906.4,1807.2 907.1,1814.4 907.8,1821.6 908.5,1828.8 909.3,1836 910.2,1843.2 911.2,1850.4 912.2,1857.5 913.2,1864.7 914.4,1871.9 915.5,1879 916.8,1886.1 918.1,1893.3 919.5,1900.4 920.9,1907.5 922.4,1914.6 924,1921.6 925.6,1928.7 927.3,1935.8 929.1,1942.8 930.9,1949.8 932.7,1956.8 934.7,1963.8 936.7,1970.8 938.7,1977.7 940.8,1984.7 943,1991.6 945.2,1998.5 947.5,2005.3 949.9,2012.2 952.3,2019 954.8,2025.9 957.3,2032.7 959.9,2039.4 962.5,2046.2 965.2,2052.9 968,2059.6 970.8,2066.3 973.7,2073 976.7,2079.6 979.7,2086.2 982.7,2092.8 985.8,2099.3 989,2105.9 992.2,2112.4 995.5,2118.8 998.9,2125.3 1002.2,2131.7 1003,2133.1 1722,1720.3" fill="#C25067"/>
<polygon points="2490.1,2139.3 2492.2,2135.4 2495.8,2128.9 2499.2,2122.3 2502.7,2115.7 2506,2109 2509.3,2102.4 2512.6,2095.7 2515.8,2088.9 2518.9,2082.2 2522,2075.4 2525,2068.6 2528,2061.7 2530.9,2054.8 2533.7,2048 2536.5,2041 2539.2,2034.1 2541.9,2027.1 2544.5,2020.1 2547,2013.1 2549.5,2006.1 2551.9,1999 2554.3,1992 2556.6,1984.9 2558.8,1977.7 2561,1970.6 2563.1,1963.4 2565.1,1956.3 2567.1,1949.1 2569,1941.9 2570.9,1934.6 2572.7,1927.4 2574.4,1920.1 2576.1,1912.8 2577.7,1905.5 2579.2,1898.2 2580.7,1890.9 2582.1,1883.6 2583.5,1876.2 2584.8,1868.9 2586,1861.5 2587.2,1854.1 2588.3,1846.7 2589.3,1839.3 2590.3,1831.9 2591.2,1824.5 2592,1817.1 2592.8,1809.6 2593.5,1802.2 2594.1,1794.7 2594.7,1787.3 2595.2,1779.8 2595.7,1772.3 2596.1,1764.9 2596.4,1757.4 2596.7,1749.9 2596.9,1742.4 2597,1735 2596.9,1727.5 2596.8,1720 2596.6,1712.5 2596.3,1705 2596,1697.6 2595.6,1690.1 2595.2,1682.6 2594.6,1675.2 2594,1667.7 2593.4,1660.3 2592.7,1652.8 2591.9,1645.4 2591,1637.9 2590.1,1630.5 2589.1,1623.1 2588.1,1615.7 2587,1608.3 2585.8,1600.9 2584.6,1593.6 2583.3,1586.2 2581.9,1578.8 2580.5,1571.5 2579,1564.2 2577.5,1556.9 2575.8,1549.6 2574.2,1542.3 2572.4,1535 2570.6,1527.8 2568.7,1520.5 2566.8,1513.3 2564.8,1506.1 2562.8,1499 2560.6,1491.8 2558.5,1484.6 2556.2,1477.5 2553.9,1470.4 2551.5,1463.3 2549.1,1456.3 2546.6,1449.2 2544.1,1442.2 2541.5,1435.2 2538.8,1428.3 2536.1,1421.3 2533.3,1414.4 2530.4,1407.5 2527.5,1400.6 2524.5,1393.8 2521.5,1387 2518.4,1380.2 2515.3,1373.4 2512.1,1366.7 2508.8,1360 2505.5,1353.3 2502.1,1346.6 2498.7,1340 2495.2,1333.4 2491.6,1326.9 2488,1320.3 2484.4,1313.8 2480.6,1307.4 2476.9,1301 2473,1294.6 2469.1,1288.2 2465.2,1281.9 2461.2,1275.6 2457.2,1269.3 2453.1,1263.1 2448.9,1256.9 2444.7,1250.8 2440.4,1244.7 2436.1,1238.6 2431.7,1232.6 2427.3,1226.6 2422.8,1220.6 2418.3,1214.7 2413.8,1208.8 2409.1,1203 2404.4,1197.2 2399.7,1191.4 2394.9,1185.7 2390.1,1180 2385.3,1174.4 2380.3,1168.8 2375.4,1163.3 2370.3,1157.8 2365.3,1152.3 2360.2,1146.9 2355,1141.6 2349.8,1136.2 2344.6,1131 2339.3,1125.7 2333.9,1120.5 2328.6,1115.4 2323.2,1110.3 2317.7,1105.2 2312.2,1100.2 2306.7,1095.2 2301.1,1090.3 2295.4,1085.5 2289.8,1080.7 2284.1,1075.9 2278.3,1071.2 2272.5,1066.5 2266.7,1061.9 2260.8,1057.3 2254.9,1052.8 2249,1048.4 2243,1044 2236.9,1039.6 2230.9,1035.3 2224.8,1031.1 2218.6,1026.9 2212.5,1022.7 2206.3,1018.6 2200,1014.6 2193.7,1010.6 2187.4,1006.7 2181.1,1002.8 2174.7,999 2168.3,995.2 2161.8,991.5 2155.4,987.9 2148.8,984.3 2142.3,980.8 2135.7,977.3 2129.1,973.9 2122.5,970.5 2115.9,967.2 2109.2,964 2102.5,960.8 2095.7,957.7 2089,954.6 2082.2,951.6 2075.3,948.6 2068.5,945.7 2061.6,942.9 2054.7,940.1 2047.8,937.4 2040.9,934.8 2033.9,932.2 2026.9,929.7 2019.9,927.2 2012.9,924.8 2005.9,922.4 1998.8,920.2 1991.7,917.9 1984.6,915.8 1977.5,913.7 1970.4,911.6 1963.2,909.7 1956,907.7 1948.8,905.9 1941.6,904.1 1934.4,902.4 1927.2,900.7 1919.9,899.1 1912.7,897.6 1905.4,896.1 1898.1,894.7 1890.8,893.4 1883.5,892.1 1876.2,890.9 1868.8,889.7 1861.5,888.6 1854.2,887.6 1846.8,886.6 1839.4,885.7 1832.1,884.9 1824.7,884.1 1817.3,883.4 1809.9,882.8 1802.5,882.2 1795.1,881.7 1787.7,881.2 1780.3,880.8 1772.9,880.5 1765.5,880.3 1758.8,880.1 1754.1,1703.6" fill="#EBCBD0"/>
<polygon points="2483.1,2125.9 2484.6,2123 2488,2116.6 2491.4,2110 2494.7,2103.5 2498,2096.9 2501.2,2090.3 2504.3,2083.7 2507.4,2077 2510.4,2070.3 2513.4,2063.6 2516.3,2056.9 2519.2,2050.1 2522,2043.3 2524.7,2036.5 2527.4,2029.7 2530,2022.8 2532.6,2015.9 2535.1,2009 2537.5,2002.1 2539.9,1995.1 2542.2,1988.2 2544.5,1981.2 2546.7,1974.1 2548.8,1967.1 2550.9,1960.1 2552.9,1953 2554.9,1945.9 2556.8,1938.8 2558.6,1931.7 2560.4,1924.5 2562.1,1917.4 2563.8,1910.2 2565.3,1903 2566.9,1895.8 2568.3,1888.6 2569.7,1881.4 2571.1,1874.1 2572.3,1866.9 2573.5,1859.6 2574.7,1852.3 2575.8,1845.1 2576.8,1837.8 2577.7,1830.5 2578.6,1823.2 2579.5,1815.8 2580.2,1808.5 2580.9,1801.2 2581.6,1793.8 2582.1,1786.5 2582.7,1779.1 2583.1,1771.8 2583.5,1764.4 2583.8,1757 2584.1,1749.7 2584.3,1742.3 2584.4,1734.9 2584.3,1727.6 2584.2,1720.2 2584,1712.8 2583.7,1705.4 2583.4,1698.1 2583,1690.7 2582.6,1683.4 2582.1,1676 2581.5,1668.7 2580.8,1661.3 2580.1,1654 2579.3,1646.7 2578.5,1639.3 2577.6,1632 2576.6,1624.7 2575.6,1617.4 2574.5,1610.1 2573.4,1602.9 2572.1,1595.6 2570.9,1588.3 2569.5,1581.1 2568.1,1573.9 2566.6,1566.7 2565.1,1559.5 2563.5,1552.3 2561.9,1545.1 2560.1,1537.9 2558.4,1530.8 2556.5,1523.7 2554.6,1516.6 2552.7,1509.5 2550.6,1502.4 2548.5,1495.3 2546.4,1488.3 2544.2,1481.3 2541.9,1474.3 2539.6,1467.3 2537.2,1460.3 2534.7,1453.4 2532.2,1446.5 2529.6,1439.6 2527,1432.7 2524.3,1425.9 2521.6,1419.1 2518.8,1412.3 2515.9,1405.5 2513,1398.8 2510,1392 2506.9,1385.3 2503.8,1378.7 2500.7,1372 2497.5,1365.4 2494.2,1358.9 2490.9,1352.3 2487.5,1345.8 2484,1339.3 2480.5,1332.8 2477,1326.4 2473.4,1320 2469.7,1313.6 2466,1307.3 2462.2,1301 2458.4,1294.7 2454.5,1288.5 2450.6,1282.3 2446.6,1276.1 2442.5,1270 2438.4,1263.9 2434.3,1257.9 2430.1,1251.8 2425.8,1245.9 2421.5,1239.9 2417.2,1234 2412.7,1228.1 2408.3,1222.3 2403.8,1216.5 2399.2,1210.8 2394.6,1205.1 2390,1199.4 2385.3,1193.8 2380.5,1188.2 2375.7,1182.6 2370.9,1177.1 2366,1171.7 2361,1166.2 2356,1160.9 2351,1155.5 2345.9,1150.3 2340.8,1145 2335.6,1139.8 2330.4,1134.7 2325.1,1129.5 2319.9,1124.5 2314.5,1119.4 2309.1,1114.5 2303.7,1109.5 2298.3,1104.6 2292.8,1099.8 2287.2,1095 2281.6,1090.3 2276,1085.6 2270.3,1080.9 2264.6,1076.3 2258.9,1071.8 2253.1,1067.3 2247.3,1062.8 2241.4,1058.4 2235.5,1054.1 2229.6,1049.8 2223.6,1045.6 2217.6,1041.4 2211.5,1037.3 2205.4,1033.2 2199.3,1029.2 2193.2,1025.2 2187,1021.3 2180.8,1017.4 2174.5,1013.6 2168.2,1009.8 2161.9,1006.1 2155.6,1002.5 2149.2,998.9 2142.8,995.3 2136.3,991.9 2129.8,988.4 2123.3,985.1 2116.8,981.8 2110.3,978.5 2103.7,975.3 2097.1,972.2 2090.4,969.1 2083.8,966.1 2077.1,963.1 2070.3,960.2 2063.6,957.4 2056.8,954.6 2050,951.8 2043.2,949.2 2036.4,946.6 2029.5,944 2022.7,941.5 2015.8,939.1 2008.8,936.7 2001.9,934.4 1994.9,932.1 1988,930 1981,927.8 1973.9,925.8 1966.9,923.8 1959.8,921.8 1952.8,919.9 1945.7,918.1 1938.6,916.3 1931.5,914.6 1924.4,913 1917.2,911.4 1910.1,909.9 1902.9,908.5 1895.7,907.1 1888.5,905.7 1881.3,904.5 1874.1,903.3 1866.9,902.1 1859.7,901.1 1852.4,900.1 1845.2,899.1 1837.9,898.2 1830.6,897.4 1823.4,896.6 1816.1,895.9 1808.8,895.3 1801.5,894.7 1794.2,894.2 1787,893.8 1779.7,893.4 1772.4,893.1 1769.7,893 1765.1,1700.8" fill="#C65777"/>
<polygon points="1007.6,2152.7 1007.9,2153.2 1011.6,2159.5 1015.4,2165.7 1019.3,2171.9 1023.2,2178.1 1027.1,2184.2 1031.1,2190.3 1035.2,2196.4 1039.3,2202.4 1043.5,2208.4 1047.7,2214.4 1052,2220.3 1056.3,2226.2 1060.7,2232 1065.1,2237.8 1069.6,2243.6 1074.1,2249.3 1078.7,2255 1083.3,2260.6 1088,2266.2 1092.7,2271.8 1097.5,2277.3 1102.3,2282.8 1107.1,2288.2 1112.1,2293.6 1117,2299 1122,2304.3 1127.1,2309.6 1132.1,2314.8 1137.3,2319.9 1142.5,2325.1 1147.7,2330.2 1152.9,2335.2 1158.3,2340.2 1163.6,2345.1 1169,2350 1174.4,2354.9 1179.9,2359.7 1185.4,2364.4 1191,2369.1 1196.6,2373.8 1202.2,2378.4 1207.9,2382.9 1213.6,2387.4 1219.4,2391.9 1225.2,2396.3 1231,2400.6 1236.9,2404.9 1242.8,2409.2 1248.7,2413.4 1254.7,2417.5 1260.7,2421.6 1266.8,2425.7 1272.9,2429.7 1279,2433.6 1285.1,2437.5 1291.3,2441.3 1297.5,2445.1 1303.8,2448.8 1310,2452.5 1316.3,2456.1 1322.7,2459.6 1329.1,2463.1 1335.5,2466.5 1341.9,2469.9 1348.4,2473.2 1354.9,2476.4 1361.4,2479.6 1367.9,2482.8 1374.5,2485.8 1381.1,2488.9 1387.7,2491.8 1394.4,2494.7 1401.1,2497.6 1407.8,2500.4 1414.5,2503.1 1421.2,2505.8 1428,2508.4 1434.8,2511 1441.6,2513.4 1448.4,2515.9 1455.3,2518.3 1462.1,2520.6 1469,2522.8 1475.9,2525 1482.9,2527.2 1489.8,2529.2 1496.8,2531.3 1503.7,2533.2 1510.7,2535.1 1517.7,2536.9 1524.8,2538.7 1531.8,2540.4 1538.8,2542.1 1545.9,2543.6 1553,2545.2 1560.1,2546.6 1567.2,2548 1574.3,2549.4 1581.4,2550.7 1588.5,2551.9 1595.7,2553 1602.8,2554.1 1610,2555.1 1617.1,2556.1 1624.3,2557 1631.5,2557.8 1638.7,2558.6 1645.9,2559.3 1653.1,2560 1660.3,2560.6 1667.5,2561.1 1674.7,2561.6 1681.9,2562 1689.1,2562.3 1696.3,2562.6 1703.5,2562.8 1710.7,2563 1718,2563.1 1725.2,2563.1 1732.4,2563 1739.6,2563 1746.8,2563.1 1754,2563.1 1761.3,2563 1768.5,2562.8 1775.7,2562.6 1782.9,2562.3 1790.1,2562 1797.3,2561.6 1804.5,2561.1 1811.7,2560.6 1818.9,2560 1826.1,2559.3 1833.3,2558.6 1840.5,2557.8 1847.7,2557 1854.9,2556.1 1862,2555.1 1869.2,2554.1 1876.3,2553 1883.5,2551.9 1890.6,2550.7 1897.7,2549.4 1904.8,2548 1911.9,2546.6 1919,2545.2 1926.1,2543.6 1933.2,2542.1 1940.2,2540.4 1947.2,2538.7 1954.3,2536.9 1961.3,2535.1 1968.3,2533.2 1975.2,2531.3 1982.2,2529.2 1989.1,2527.2 1996.1,2525 2003,2522.8 2009.9,2520.6 2016.7,2518.3 2023.6,2515.9 2030.4,2513.4 2037.2,2511 2044,2508.4 2050.8,2505.8 2057.5,2503.1 2064.2,2500.4 2070.9,2497.6 2077.6,2494.7 2084.3,2491.8 2090.9,2488.9 2097.5,2485.8 2104.1,2482.8 2110.6,2479.6 2117.1,2476.4 2123.6,2473.2 2130.1,2469.9 2136.5,2466.5 2142.9,2463.1 2149.3,2459.6 2155.7,2456.1 2162,2452.5 2168.2,2448.8 2174.5,2445.1 2180.7,2441.3 2186.9,2437.5 2193,2433.6 2199.1,2429.7 2205.2,2425.7 2211.3,2421.6 2217.3,2417.5 2223.3,2413.4 2229.2,2409.2 2235.1,2404.9 2241,2400.6 2246.8,2396.3 2252.6,2391.9 2258.4,2387.4 2264.1,2382.9 2269.8,2378.4 2275.4,2373.8 2281,2369.1 2286.6,2364.4 2292.1,2359.7 2297.6,2354.9 2303,2350 2308.4,2345.1 2313.7,2340.2 2319.1,2335.2 2324.3,2330.2 2329.5,2325.1 2334.7,2319.9 2339.9,2314.8 2344.9,2309.6 2350,2304.3 2355,2299 2359.9,2293.6 2364.9,2288.2 2369.7,2282.8 2374.5,2277.3 2379.3,2271.8 2384,2266.2 2388.7,2260.6 2393.3,2255 2397.9,2249.3 2402.4,2243.6 2406.9,2237.8 2411.3,2232 2415.7,2226.2 2420,2220.3 2424.3,2214.4 2428.5,2208.4 2432.7,2202.4 2436.8,2196.4 2440.9,2190.3 2444.9,2184.2 2448.8,2178.1 2452.7,2171.9 2456.6,2165.7 2460.4,2159.5 2464.1,2153.2 2464.9,2151.9 1748,1727.5" fill="#D9BFC2"/>
<polygon points="1022.6,2153.3 1026.2,2159.2 1030,2165.3 1033.9,2171.4 1037.8,2177.5 1041.7,2183.5 1045.7,2189.4 1049.8,2195.4 1053.9,2201.3 1058,2207.2 1062.3,2213 1066.5,2218.8 1070.8,2224.5 1075.2,2230.2 1079.6,2235.9 1084.1,2241.6 1088.6,2247.2 1093.1,2252.7 1097.7,2258.2 1102.4,2263.7 1107.1,2269.2 1111.8,2274.5 1116.6,2279.9 1121.4,2285.2 1126.3,2290.5 1131.2,2295.7 1136.2,2300.9 1141.2,2306 1146.3,2311.1 1151.4,2316.2 1156.5,2321.2 1161.7,2326.1 1166.9,2331 1172.2,2335.9 1177.5,2340.7 1182.9,2345.5 1188.3,2350.2 1193.7,2354.9 1199.2,2359.5 1204.7,2364.1 1210.3,2368.7 1215.9,2373.1 1221.5,2377.6 1227.2,2382 1232.9,2386.3 1238.6,2390.6 1244.4,2394.8 1250.2,2399 1256.1,2403.1 1262,2407.2 1267.9,2411.3 1273.8,2415.2 1279.8,2419.2 1285.8,2423 1291.9,2426.9 1298,2430.6 1304.1,2434.3 1310.3,2438 1316.5,2441.6 1322.7,2445.2 1328.9,2448.6 1335.2,2452.1 1341.5,2455.4 1347.9,2458.8 1354.2,2462 1360.6,2465.2 1367,2468.4 1373.5,2471.5 1380,2474.5 1386.5,2477.5 1393,2480.4 1399.5,2483.2 1406.1,2486 1412.7,2488.8 1419.3,2491.5 1426,2494.1 1432.6,2496.7 1439.3,2499.2 1446,2501.7 1452.8,2504.1 1459.5,2506.4 1466.3,2508.7 1473.1,2510.9 1479.9,2513.1 1486.7,2515.2 1493.5,2517.2 1500.4,2519.2 1507.2,2521.1 1514.1,2523 1521,2524.8 1527.9,2526.5 1534.9,2528.2 1541.8,2529.8 1548.8,2531.4 1555.7,2532.9 1562.7,2534.3 1569.7,2535.7 1576.7,2537 1583.7,2538.3 1590.8,2539.5 1597.8,2540.6 1604.8,2541.7 1611.9,2542.7 1618.9,2543.6 1626,2544.5 1633.1,2545.3 1640.1,2546.1 1647.2,2546.8 1654.3,2547.5 1661.4,2548 1668.5,2548.6 1675.6,2549 1682.7,2549.4 1689.8,2549.7 1696.9,2550 1704,2550.2 1711.1,2550.4 1718.2,2550.5 1725.3,2550.5 1732.4,2550.4 1739.6,2550.4 1746.7,2550.5 1753.8,2550.5 1760.9,2550.4 1768,2550.2 1775.1,2550 1782.2,2549.7 1789.3,2549.4 1796.4,2549 1803.5,2548.6 1810.6,2548 1817.7,2547.5 1824.8,2546.8 1831.9,2546.1 1838.9,2545.3 1846,2544.5 1853.1,2543.6 1860.1,2542.7 1867.2,2541.7 1874.2,2540.6 1881.2,2539.5 1888.3,2538.3 1895.3,2537 1902.3,2535.7 1909.3,2534.3 1916.3,2532.9 1923.2,2531.4 1930.2,2529.8 1937.1,2528.2 1944.1,2526.5 1951,2524.8 1957.9,2523 1964.8,2521.1 1971.6,2519.2 1978.5,2517.2 1985.3,2515.2 1992.1,2513.1 1998.9,2510.9 2005.7,2508.7 2012.5,2506.4 2019.2,2504.1 2026,2501.7 2032.7,2499.2 2039.4,2496.7 2046,2494.1 2052.7,2491.5 2059.3,2488.8 2065.9,2486 2072.5,2483.2 2079,2480.4 2085.5,2477.5 2092,2474.5 2098.5,2471.5 2105,2468.4 2111.4,2465.2 2117.8,2462 2124.1,2458.8 2130.5,2455.4 2136.8,2452.1 2143.1,2448.6 2149.3,2445.2 2155.5,2441.6 2161.7,2438 2167.9,2434.3 2174,2430.6 2180.1,2426.9 2186.2,2423 2192.2,2419.2 2198.2,2415.2 2204.1,2411.3 2210,2407.2 2215.9,2403.1 2221.8,2399 2227.6,2394.8 2233.4,2390.6 2239.1,2386.3 2244.8,2382 2250.5,2377.6 2256.1,2373.1 2261.7,2368.7 2267.3,2364.1 2272.8,2359.5 2278.3,2354.9 2283.7,2350.2 2289.1,2345.5 2294.5,2340.7 2299.8,2335.9 2305.1,2331 2310.3,2326.1 2315.5,2321.2 2320.6,2316.2 2325.7,2311.1 2330.8,2306 2335.8,2300.9 2340.8,2295.7 2345.7,2290.5 2350.6,2285.2 2355.4,2279.9 2360.2,2274.5 2364.9,2269.2 2369.6,2263.7 2374.3,2258.2 2378.9,2252.7 2383.4,2247.2 2387.9,2241.6 2392.4,2235.9 2396.8,2230.2 2401.2,2224.5 2405.5,2218.8 2409.7,2213 2414,2207.2 2418.1,2201.3 2422.2,2195.4 2426.3,2189.4 2430.3,2183.5 2434.2,2177.5 2438.1,2171.4 2442,2165.3 2445.8,2159.2 2449.5,2153.1 2450,2152.3 1748,1736.8" fill="#8E4C5C"/>
</g>
<g id="sublines2" stroke="#fff" stroke-opacity="0.4" stroke-width="3.6" fill="none">
<line x1="1736" y1="1733" x2="1099.6" y2="1096.6" clip-path="url(#cdL)"/>
<line x1="1736" y1="1733" x2="839" y2="1659.3" clip-path="url(#cdL)"/>
<line x1="1736" y1="1733" x2="2367.9" y2="1092.2" clip-path="url(#cdR)"/>
<line x1="1736" y1="1733" x2="2632.8" y2="1657.7" clip-path="url(#cdR)"/>
<line x1="1736" y1="1733" x2="1443" y2="2584" clip-path="url(#cdB)"/>
<line x1="1736" y1="1733" x2="2065.9" y2="2570.4" clip-path="url(#cdB)"/>
</g>
<defs><clipPath id="cpoly"><polygon points="1423.4,946 1854.6,1413.9 2324.9,1413.9 2387.8,1848.9 1948.2,1982.2 1735,1893.8 1424.3,2110.3 1068.4,1848.9 1431.4,1567"/></clipPath></defs>
<polygon points="1727.9,882.1 1721.4,882.2 1714,882.4 1706.6,882.6 1699.2,882.9 1691.8,883.3 1684.4,883.7 1677.1,884.2 1669.7,884.7 1662.3,885.3 1654.9,886 1647.6,886.8 1640.2,887.6 1632.9,888.5 1625.6,889.4 1618.2,890.4 1610.9,891.5 1603.6,892.6 1596.3,893.8 1589,895 1581.7,896.4 1574.5,897.7 1567.2,899.2 1560,900.7 1552.8,902.3 1545.6,903.9 1538.4,905.6 1531.2,907.4 1524,909.2 1516.9,911.1 1509.7,913 1502.6,915 1495.5,917.1 1488.4,919.2 1481.4,921.4 1474.3,923.7 1467.3,926 1460.3,928.4 1453.3,930.8 1446.4,933.3 1439.4,935.9 1432.5,938.5 1425.6,941.2 1418.8,943.9 1411.9,946.7 1405.1,949.5 1398.3,952.5 1391.5,955.4 1384.8,958.5 1378.1,961.6 1371.4,964.7 1364.7,967.9 1358.1,971.2 1351.5,974.5 1344.9,977.9 1338.4,981.3 1331.9,984.8 1325.4,988.4 1318.9,992 1312.5,995.6 1306.1,999.4 1299.8,1003.1 1293.5,1007 1287.2,1010.8 1280.9,1014.8 1274.7,1018.8 1268.5,1022.8 1262.4,1026.9 1256.2,1031.1 1250.2,1035.3 1244.1,1039.5 1238.1,1043.8 1232.2,1048.2 1226.2,1052.6 1220.3,1057.1 1214.5,1061.6 1208.7,1066.2 1202.9,1070.8 1197.2,1075.4 1191.5,1080.2 1185.8,1084.9 1180.2,1089.7 1174.7,1094.6 1169.2,1099.5 1163.7,1104.5 1158.2,1109.5 1152.9,1114.5 1147.5,1119.6 1142.2,1124.8 1136.9,1130 1131.8,1135.2 1126.6,1140.5 1121.5,1145.9 1116.5,1151.3 1111.5,1156.7 1106.6,1162.2 1101.7,1167.8 1096.8,1173.3 1092,1178.9 1087.3,1184.6 1082.6,1190.3 1077.9,1196 1073.3,1201.8 1068.8,1207.6 1064.3,1213.5 1059.8,1219.4 1055.4,1225.3 1051.1,1231.3 1046.8,1237.3 1042.6,1243.3 1038.4,1249.4 1034.2,1255.5 1030.2,1261.6 1026.1,1267.8 1022.2,1274 1018.3,1280.3 1014.4,1286.6 1010.6,1292.9 1006.8,1299.2 1003.1,1305.6 999.5,1312 995.9,1318.5 992.4,1325 988.9,1331.5 985.5,1338 982.2,1344.6 978.9,1351.2 975.6,1357.8 972.4,1364.4 969.3,1371.1 966.2,1377.8 963.2,1384.5 960.3,1391.3 957.4,1398.1 954.6,1404.9 951.8,1411.7 949.1,1418.5 946.4,1425.4 943.8,1432.3 941.3,1439.2 938.8,1446.2 936.4,1453.1 934.1,1460.1 931.8,1467.1 929.6,1474.1 927.4,1481.1 925.3,1488.2 923.2,1495.3 921.3,1502.4 919.3,1509.5 917.5,1516.6 915.7,1523.7 914,1530.9 912.3,1538 910.7,1545.2 909.1,1552.4 907.6,1559.6 906.2,1566.8 904.9,1574.1 903.6,1581.3 902.3,1588.5 901.2,1595.8 900.1,1603.1 899,1610.4 898,1617.6 897.1,1624.9 896.3,1632.2 895.5,1639.6 894.7,1646.9 894.1,1654.2 893.5,1661.5 893,1668.8 892.5,1676.2 892.1,1683.5 891.7,1690.9 891.5,1698.2 891.2,1705.5 891.1,1712.9 891,1720.2 891,1727.6 891,1734.9 891,1742.3 891.1,1749.6 891.2,1757 891.4,1764.3 891.6,1771.6 892,1779 892.3,1786.3 892.8,1793.7 893.3,1801 893.9,1808.3 894.5,1815.6 895.2,1823 896,1830.3 896.8,1837.6 897.7,1844.9 898.7,1852.2 899.7,1859.4 900.8,1866.7 901.9,1874 903.1,1881.2 904.4,1888.5 905.8,1895.7 907.2,1902.9 908.6,1910.1 910.1,1917.3 911.7,1924.5 913.4,1931.7 915.1,1938.8 916.9,1946 918.7,1953.1 920.6,1960.2 922.6,1967.3 924.6,1974.4 926.7,1981.4 928.8,1988.5 931,1995.5 933.3,2002.5 935.6,2009.5 938,2016.4 940.5,2023.4 943,2030.3 945.5,2037.2 948.2,2044.1 950.9,2050.9 953.6,2057.7 956.4,2064.5 959.3,2071.3 962.2,2078.1 965.2,2084.8 968.2,2091.5 971.3,2098.2 974.5,2104.9 977.7,2111.5 981,2118.1 984.3,2124.7 987.7,2131.2 991.2,2137.7 994.7,2144.2 995.9,2146.4 1731.4,1724.1" fill="#FBFFEC" fill-opacity="0.6" clip-path="url(#cpoly)"/>
<polygon points="2490.1,2139.3 2492.2,2135.4 2495.8,2128.9 2499.2,2122.3 2502.7,2115.7 2506,2109 2509.3,2102.4 2512.6,2095.7 2515.8,2088.9 2518.9,2082.2 2522,2075.4 2525,2068.6 2528,2061.7 2530.9,2054.8 2533.7,2048 2536.5,2041 2539.2,2034.1 2541.9,2027.1 2544.5,2020.1 2547,2013.1 2549.5,2006.1 2551.9,1999 2554.3,1992 2556.6,1984.9 2558.8,1977.7 2561,1970.6 2563.1,1963.4 2565.1,1956.3 2567.1,1949.1 2569,1941.9 2570.9,1934.6 2572.7,1927.4 2574.4,1920.1 2576.1,1912.8 2577.7,1905.5 2579.2,1898.2 2580.7,1890.9 2582.1,1883.6 2583.5,1876.2 2584.8,1868.9 2586,1861.5 2587.2,1854.1 2588.3,1846.7 2589.3,1839.3 2590.3,1831.9 2591.2,1824.5 2592,1817.1 2592.8,1809.6 2593.5,1802.2 2594.1,1794.7 2594.7,1787.3 2595.2,1779.8 2595.7,1772.3 2596.1,1764.9 2596.4,1757.4 2596.7,1749.9 2596.9,1742.4 2597,1735 2596.9,1727.5 2596.8,1720 2596.6,1712.5 2596.3,1705 2596,1697.6 2595.6,1690.1 2595.2,1682.6 2594.6,1675.2 2594,1667.7 2593.4,1660.3 2592.7,1652.8 2591.9,1645.4 2591,1637.9 2590.1,1630.5 2589.1,1623.1 2588.1,1615.7 2587,1608.3 2585.8,1600.9 2584.6,1593.6 2583.3,1586.2 2581.9,1578.8 2580.5,1571.5 2579,1564.2 2577.5,1556.9 2575.8,1549.6 2574.2,1542.3 2572.4,1535 2570.6,1527.8 2568.7,1520.5 2566.8,1513.3 2564.8,1506.1 2562.8,1499 2560.6,1491.8 2558.5,1484.6 2556.2,1477.5 2553.9,1470.4 2551.5,1463.3 2549.1,1456.3 2546.6,1449.2 2544.1,1442.2 2541.5,1435.2 2538.8,1428.3 2536.1,1421.3 2533.3,1414.4 2530.4,1407.5 2527.5,1400.6 2524.5,1393.8 2521.5,1387 2518.4,1380.2 2515.3,1373.4 2512.1,1366.7 2508.8,1360 2505.5,1353.3 2502.1,1346.6 2498.7,1340 2495.2,1333.4 2491.6,1326.9 2488,1320.3 2484.4,1313.8 2480.6,1307.4 2476.9,1301 2473,1294.6 2469.1,1288.2 2465.2,1281.9 2461.2,1275.6 2457.2,1269.3 2453.1,1263.1 2448.9,1256.9 2444.7,1250.8 2440.4,1244.7 2436.1,1238.6 2431.7,1232.6 2427.3,1226.6 2422.8,1220.6 2418.3,1214.7 2413.8,1208.8 2409.1,1203 2404.4,1197.2 2399.7,1191.4 2394.9,1185.7 2390.1,1180 2385.3,1174.4 2380.3,1168.8 2375.4,1163.3 2370.3,1157.8 2365.3,1152.3 2360.2,1146.9 2355,1141.6 2349.8,1136.2 2344.6,1131 2339.3,1125.7 2333.9,1120.5 2328.6,1115.4 2323.2,1110.3 2317.7,1105.2 2312.2,1100.2 2306.7,1095.2 2301.1,1090.3 2295.4,1085.5 2289.8,1080.7 2284.1,1075.9 2278.3,1071.2 2272.5,1066.5 2266.7,1061.9 2260.8,1057.3 2254.9,1052.8 2249,1048.4 2243,1044 2236.9,1039.6 2230.9,1035.3 2224.8,1031.1 2218.6,1026.9 2212.5,1022.7 2206.3,1018.6 2200,1014.6 2193.7,1010.6 2187.4,1006.7 2181.1,1002.8 2174.7,999 2168.3,995.2 2161.8,991.5 2155.4,987.9 2148.8,984.3 2142.3,980.8 2135.7,977.3 2129.1,973.9 2122.5,970.5 2115.9,967.2 2109.2,964 2102.5,960.8 2095.7,957.7 2089,954.6 2082.2,951.6 2075.3,948.6 2068.5,945.7 2061.6,942.9 2054.7,940.1 2047.8,937.4 2040.9,934.8 2033.9,932.2 2026.9,929.7 2019.9,927.2 2012.9,924.8 2005.9,922.4 1998.8,920.2 1991.7,917.9 1984.6,915.8 1977.5,913.7 1970.4,911.6 1963.2,909.7 1956,907.7 1948.8,905.9 1941.6,904.1 1934.4,902.4 1927.2,900.7 1919.9,899.1 1912.7,897.6 1905.4,896.1 1898.1,894.7 1890.8,893.4 1883.5,892.1 1876.2,890.9 1868.8,889.7 1861.5,888.6 1854.2,887.6 1846.8,886.6 1839.4,885.7 1832.1,884.9 1824.7,884.1 1817.3,883.4 1809.9,882.8 1802.5,882.2 1795.1,881.7 1787.7,881.2 1780.3,880.8 1772.9,880.5 1765.5,880.3 1758.8,880.1 1754.1,1703.6" fill="#FBFFF7" fill-opacity="0.6" clip-path="url(#cpoly)"/>
<polygon points="1007.6,2152.7 1007.9,2153.2 1011.6,2159.5 1015.4,2165.7 1019.3,2171.9 1023.2,2178.1 1027.1,2184.2 1031.1,2190.3 1035.2,2196.4 1039.3,2202.4 1043.5,2208.4 1047.7,2214.4 1052,2220.3 1056.3,2226.2 1060.7,2232 1065.1,2237.8 1069.6,2243.6 1074.1,2249.3 1078.7,2255 1083.3,2260.6 1088,2266.2 1092.7,2271.8 1097.5,2277.3 1102.3,2282.8 1107.1,2288.2 1112.1,2293.6 1117,2299 1122,2304.3 1127.1,2309.6 1132.1,2314.8 1137.3,2319.9 1142.5,2325.1 1147.7,2330.2 1152.9,2335.2 1158.3,2340.2 1163.6,2345.1 1169,2350 1174.4,2354.9 1179.9,2359.7 1185.4,2364.4 1191,2369.1 1196.6,2373.8 1202.2,2378.4 1207.9,2382.9 1213.6,2387.4 1219.4,2391.9 1225.2,2396.3 1231,2400.6 1236.9,2404.9 1242.8,2409.2 1248.7,2413.4 1254.7,2417.5 1260.7,2421.6 1266.8,2425.7 1272.9,2429.7 1279,2433.6 1285.1,2437.5 1291.3,2441.3 1297.5,2445.1 1303.8,2448.8 1310,2452.5 1316.3,2456.1 1322.7,2459.6 1329.1,2463.1 1335.5,2466.5 1341.9,2469.9 1348.4,2473.2 1354.9,2476.4 1361.4,2479.6 1367.9,2482.8 1374.5,2485.8 1381.1,2488.9 1387.7,2491.8 1394.4,2494.7 1401.1,2497.6 1407.8,2500.4 1414.5,2503.1 1421.2,2505.8 1428,2508.4 1434.8,2511 1441.6,2513.4 1448.4,2515.9 1455.3,2518.3 1462.1,2520.6 1469,2522.8 1475.9,2525 1482.9,2527.2 1489.8,2529.2 1496.8,2531.3 1503.7,2533.2 1510.7,2535.1 1517.7,2536.9 1524.8,2538.7 1531.8,2540.4 1538.8,2542.1 1545.9,2543.6 1553,2545.2 1560.1,2546.6 1567.2,2548 1574.3,2549.4 1581.4,2550.7 1588.5,2551.9 1595.7,2553 1602.8,2554.1 1610,2555.1 1617.1,2556.1 1624.3,2557 1631.5,2557.8 1638.7,2558.6 1645.9,2559.3 1653.1,2560 1660.3,2560.6 1667.5,2561.1 1674.7,2561.6 1681.9,2562 1689.1,2562.3 1696.3,2562.6 1703.5,2562.8 1710.7,2563 1718,2563.1 1725.2,2563.1 1732.4,2563 1739.6,2563 1746.8,2563.1 1754,2563.1 1761.3,2563 1768.5,2562.8 1775.7,2562.6 1782.9,2562.3 1790.1,2562 1797.3,2561.6 1804.5,2561.1 1811.7,2560.6 1818.9,2560 1826.1,2559.3 1833.3,2558.6 1840.5,2557.8 1847.7,2557 1854.9,2556.1 1862,2555.1 1869.2,2554.1 1876.3,2553 1883.5,2551.9 1890.6,2550.7 1897.7,2549.4 1904.8,2548 1911.9,2546.6 1919,2545.2 1926.1,2543.6 1933.2,2542.1 1940.2,2540.4 1947.2,2538.7 1954.3,2536.9 1961.3,2535.1 1968.3,2533.2 1975.2,2531.3 1982.2,2529.2 1989.1,2527.2 1996.1,2525 2003,2522.8 2009.9,2520.6 2016.7,2518.3 2023.6,2515.9 2030.4,2513.4 2037.2,2511 2044,2508.4 2050.8,2505.8 2057.5,2503.1 2064.2,2500.4 2070.9,2497.6 2077.6,2494.7 2084.3,2491.8 2090.9,2488.9 2097.5,2485.8 2104.1,2482.8 2110.6,2479.6 2117.1,2476.4 2123.6,2473.2 2130.1,2469.9 2136.5,2466.5 2142.9,2463.1 2149.3,2459.6 2155.7,2456.1 2162,2452.5 2168.2,2448.8 2174.5,2445.1 2180.7,2441.3 2186.9,2437.5 2193,2433.6 2199.1,2429.7 2205.2,2425.7 2211.3,2421.6 2217.3,2417.5 2223.3,2413.4 2229.2,2409.2 2235.1,2404.9 2241,2400.6 2246.8,2396.3 2252.6,2391.9 2258.4,2387.4 2264.1,2382.9 2269.8,2378.4 2275.4,2373.8 2281,2369.1 2286.6,2364.4 2292.1,2359.7 2297.6,2354.9 2303,2350 2308.4,2345.1 2313.7,2340.2 2319.1,2335.2 2324.3,2330.2 2329.5,2325.1 2334.7,2319.9 2339.9,2314.8 2344.9,2309.6 2350,2304.3 2355,2299 2359.9,2293.6 2364.9,2288.2 2369.7,2282.8 2374.5,2277.3 2379.3,2271.8 2384,2266.2 2388.7,2260.6 2393.3,2255 2397.9,2249.3 2402.4,2243.6 2406.9,2237.8 2411.3,2232 2415.7,2226.2 2420,2220.3 2424.3,2214.4 2428.5,2208.4 2432.7,2202.4 2436.8,2196.4 2440.9,2190.3 2444.9,2184.2 2448.8,2178.1 2452.7,2171.9 2456.6,2165.7 2460.4,2159.5 2464.1,2153.2 2464.9,2151.9 1748,1727.5" fill="#FFFFF7" fill-opacity="0.5" clip-path="url(#cpoly)"/>
<polygon points="1423.4,946 1854.6,1413.9 2324.9,1413.9 2387.8,1848.9 1948.2,1982.2 1735,1893.8 1424.3,2110.3 1068.4,1848.9 1431.4,1567" fill="none" stroke="#fff" stroke-width="7.5" stroke-dasharray="26 17" stroke-dashoffset="0"/>
<g id="spokes" fill="none" stroke-width="3.9">
<polyline points="1736,1733 1671.5,1571.8 1615.7,1414.9 1543.4,1256.5 1485.8,1101.9 1423.4,946" stroke="#EAADA3"/>
<polyline points="1736,1733 1580.3,1648.8 1431.4,1567" stroke="#EAADA3"/>
<polyline points="1431.4,1567 1287.2,1487.2 1140.7,1405.4 994.2,1329.8" stroke="#C8102E"/>
<polyline points="1736,1733 1572.3,1761.4 1402.1,1782.7 1236.7,1819.6 1068.4,1848.9" stroke="#EAADA3"/>
<polyline points="1068.4,1848.9 902,1876.3" stroke="#C8102E"/>
<polyline points="1736,1733 1634.7,1856 1521.2,1987.4 1424.3,2110.3" stroke="#EAADA3"/>
<polyline points="1424.3,2110.3 1308.5,2244.5 1199.8,2370.3" stroke="#C8102E"/>
<polyline points="1736,1733 1735,1893.8" stroke="#EAADA3"/>
<polyline points="1735,1893.8 1733.5,2055.5 1730,2227 1728.8,2393.9 1727.6,2555.5" stroke="#C8102E"/>
<polyline points="1736,1733 1839.9,1855 1948.2,1982.2" stroke="#EAADA3"/>
<polyline points="1948.2,1982.2 2055.9,2109.8 2157.6,2243.6 2266.3,2371.2" stroke="#C8102E"/>
<polyline points="1736,1733 1890.5,1761.4 2056.9,1789.8 2223.7,1819.6 2387.8,1848.9" stroke="#EAADA3"/>
<polyline points="2387.8,1848.9 2553.2,1877.3" stroke="#C8102E"/>
<polyline points="1736,1733 1875.8,1648.8 2028.5,1577 2176,1494.3 2324.9,1413.9" stroke="#EAADA3"/>
<polyline points="2324.9,1413.9 2475.2,1329.8" stroke="#C8102E"/>
<polyline points="1736,1733 1796.9,1572.3 1854.6,1413.9" stroke="#EAADA3"/>
<polyline points="1854.6,1413.9 1911.8,1256.5 1974.2,1101.9 2033.2,946" stroke="#C8102E"/>
</g>
<g id="dots" fill="#fff" stroke-width="3.7">
<circle cx="1485.8" cy="1101.9" r="35.9" stroke="#EAADA3"/>
<circle cx="1543.4" cy="1256.5" r="35.9" stroke="#EAADA3"/>
<circle cx="1615.7" cy="1414.9" r="35.9" stroke="#EAADA3"/>
<circle cx="1671.5" cy="1571.8" r="35.9" stroke="#EAADA3"/>
<circle cx="994.2" cy="1329.8" r="35.9" stroke="#C8102E"/>
<circle cx="1140.7" cy="1405.4" r="35.9" stroke="#C8102E"/>
<circle cx="1287.2" cy="1487.2" r="35.9" stroke="#C8102E"/>
<circle cx="1580.3" cy="1648.8" r="35.9" stroke="#EAADA3"/>
<circle cx="902" cy="1876.3" r="35.9" stroke="#C8102E"/>
<circle cx="1236.7" cy="1819.6" r="35.9" stroke="#EAADA3"/>
<circle cx="1402.1" cy="1782.7" r="35.9" stroke="#EAADA3"/>
<circle cx="1572.3" cy="1761.4" r="35.9" stroke="#EAADA3"/>
<circle cx="1308.5" cy="2244.5" r="35.9" stroke="#C8102E"/>
<circle cx="1199.8" cy="2370.3" r="35.9" stroke="#C8102E"/>
<circle cx="1521.2" cy="1987.4" r="35.9" stroke="#EAADA3"/>
<circle cx="1634.7" cy="1856" r="35.9" stroke="#EAADA3"/>
<circle cx="1733.5" cy="2055.5" r="35.9" stroke="#C8102E"/>
<circle cx="1730" cy="2227" r="35.9" stroke="#C8102E"/>
<circle cx="1728.8" cy="2393.9" r="35.9" stroke="#C8102E"/>
<circle cx="1727.6" cy="2555.5" r="35.9" stroke="#C8102E"/>
<circle cx="2055.9" cy="2109.8" r="35.9" stroke="#C8102E"/>
<circle cx="2157.6" cy="2243.6" r="35.9" stroke="#C8102E"/>
<circle cx="2266.3" cy="2371.2" r="35.9" stroke="#C8102E"/>
<circle cx="1839.9" cy="1855" r="35.9" stroke="#EAADA3"/>
<circle cx="2553.2" cy="1877.3" r="35.9" stroke="#C8102E"/>
<circle cx="2223.7" cy="1819.6" r="35.9" stroke="#EAADA3"/>
<circle cx="2056.9" cy="1789.8" r="35.9" stroke="#EAADA3"/>
<circle cx="1890.5" cy="1761.4" r="35.9" stroke="#EAADA3"/>
<circle cx="2475.2" cy="1329.8" r="35.9" stroke="#C8102E"/>
<circle cx="2176" cy="1494.3" r="35.9" stroke="#EAADA3"/>
<circle cx="2028.5" cy="1577" r="35.9" stroke="#EAADA3"/>
<circle cx="1875.8" cy="1648.8" r="35.9" stroke="#EAADA3"/>
<circle cx="2033.2" cy="946" r="35.9" stroke="#C8102E"/>
<circle cx="1974.2" cy="1101.9" r="35.9" stroke="#C8102E"/>
<circle cx="1911.8" cy="1256.5" r="35.9" stroke="#C8102E"/>
<circle cx="1796.9" cy="1572.3" r="35.9" stroke="#EAADA3"/>
</g>
<g id="bigdots" fill="#430E19" stroke="#fff" stroke-width="11.2">
<circle cx="1423.4" cy="946" r="54.6"/>
<circle cx="1431.4" cy="1567" r="54.6"/>
<circle cx="1068.4" cy="1848.9" r="54.6"/>
<circle cx="1424.3" cy="2110.3" r="54.6"/>
<circle cx="1735" cy="1893.8" r="54.6"/>
<circle cx="1948.2" cy="1982.2" r="54.6"/>
<circle cx="2387.8" cy="1848.9" r="54.6"/>
<circle cx="2324.9" cy="1413.9" r="54.6"/>
<circle cx="1854.6" cy="1413.9" r="54.6"/>
</g>
<circle cx="1736" cy="1733" r="41" fill="#EBABA1" stroke="#fff" stroke-width="4.6"/>
<g id="ringtext">
<path id="t1" d="M365.1,2265.6 A1468.5 1468.5 0 0 1 1117.2,390.1" fill="none"/>
<text font-size="91.6" fill="#fff" text-anchor="middle"><textPath href="#t1" startOffset="50%" textLength="2068.4" lengthAdjust="spacingAndGlyphs">ZELFSTANDIG, ROBUUST EN KRACHTIG VERBONDEN</textPath></text>
<path id="t2" d="M1854.8,263.8 A1466 1466 0 0 1 3028,2406.6" fill="none"/>
<text font-size="91.6" fill="#fff" text-anchor="middle"><textPath href="#t2" startOffset="50%" textLength="2727.5" lengthAdjust="spacingAndGlyphs">GROENE OASE WAARIN HEDEN MET VERLEDEN IS VERBONDEN</textPath></text>
<path id="t3" d="M548.1,2695.7 A1530 1530 0 0 0 2897.1,2714.2" fill="none"/>
<text font-size="91.6" fill="#fff" text-anchor="middle"><textPath href="#t3" startOffset="50%" textLength="2518.1" lengthAdjust="spacingAndGlyphs">HECHTE GEMEENSCHAP MET RUIMTE VOOR DIVERSITEIT</textPath></text>
</g>
<g id="labels">
<path id="t4" d="M1039.4,695.1 A1250 1250 0 0 1 1367.8,538.5" fill="none"/>
<text font-size="53.8" fill="#000" text-anchor="middle"><textPath href="#t4" startOffset="50%" textLength="205.1" lengthAdjust="spacingAndGlyphs">VITAAL</textPath></text>
<path id="t5" d="M955.9,867.7 A1165 1165 0 0 1 1600.8,575.9" fill="none"/>
<text font-size="53.8" fill="#000" text-anchor="middle"><textPath href="#t5" startOffset="50%" textLength="559.2" lengthAdjust="spacingAndGlyphs">ONDERNEMERSCHAP</textPath></text>
<path id="t6" d="M488.6,1625.2 A1252 1252 0 0 1 836.3,862.3" fill="none"/>
<text font-size="53.8" fill="#000" text-anchor="middle"><textPath href="#t6" startOffset="50%" textLength="694.9" lengthAdjust="spacingAndGlyphs">CENTRUM ALS KLOPPEND</textPath></text>
<path id="t7" d="M599.8,1509.2 A1158 1158 0 0 1 791.6,1062.9" fill="none"/>
<text font-size="53.8" fill="#000" text-anchor="middle"><textPath href="#t7" startOffset="50%" textLength="329.4" lengthAdjust="spacingAndGlyphs">HART VOOR</textPath></text>
<path id="t8" d="M681.3,1552.4 A1070 1070 0 0 1 921,1039.7" fill="none"/>
<text font-size="53.8" fill="#000" text-anchor="middle"><textPath href="#t8" startOffset="50%" textLength="412.7" lengthAdjust="spacingAndGlyphs">VOORSCHOTEN</textPath></text>
<path id="t9" d="M611.2,2278.4 A1250 1250 0 0 1 486.5,1696.6" fill="none"/>
<text font-size="53.8" fill="#000" text-anchor="middle"><textPath href="#t9" startOffset="50%" textLength="440.7" lengthAdjust="spacingAndGlyphs">GEZOND OP WEG</textPath></text>
<path id="t10" d="M1771.6,483.5 A1250 1250 0 0 1 2613.2,842.5" fill="none"/>
<text font-size="53.8" fill="#000" text-anchor="middle"><textPath href="#t10" startOffset="50%" textLength="776.7" lengthAdjust="spacingAndGlyphs">GROEN, BLAUW EN ERFGOED</textPath></text>
<path id="t11" d="M1824.7,571.4 A1165 1165 0 0 1 2479.1,835.8" fill="none"/>
<text font-size="53.8" fill="#000" text-anchor="middle"><textPath href="#t11" startOffset="50%" textLength="557.1" lengthAdjust="spacingAndGlyphs">ZIJN ONZE DRAGERS</textPath></text>
<path id="t12" d="M2593.8,823.8 A1250 1250 0 0 1 2973.7,1558.3" fill="none"/>
<text font-size="53.8" fill="#000" text-anchor="middle"><textPath href="#t12" startOffset="50%" textLength="682.9" lengthAdjust="spacingAndGlyphs">DUURZAAM EN KLIMAAT-</textPath></text>
<path id="t13" d="M2535.9,886.1 A1165 1165 0 0 1 2897.6,1644.3" fill="none"/>
<text font-size="53.8" fill="#000" text-anchor="middle"><textPath href="#t13" startOffset="50%" textLength="699.5" lengthAdjust="spacingAndGlyphs">ROBUUST VOORSCHOTEN</textPath></text>
<path id="t14" d="M2899.5,1673.4 A1165 1165 0 0 1 2735.3,2331.9" fill="none"/>
<text font-size="53.8" fill="#000" text-anchor="middle"><textPath href="#t14" startOffset="50%" textLength="528.7" lengthAdjust="spacingAndGlyphs">DUURZAME ENERGIE</textPath></text>
<path id="t15" d="M739.7,2383.7 A1190 1190 0 0 0 1365.3,2863.8" fill="none"/>
<text font-size="53.8" fill="#000" text-anchor="middle"><textPath href="#t15" startOffset="50%" textLength="643.9" lengthAdjust="spacingAndGlyphs">PLEZIERIG WONEN VOOR</textPath></text>
<path id="t16" d="M733.1,2528.4 A1280 1280 0 0 0 1227.3,2907.6" fill="none"/>
<text font-size="53.8" fill="#000" text-anchor="middle"><textPath href="#t16" startOffset="50%" textLength="469.1" lengthAdjust="spacingAndGlyphs">ALLE LEEFTIJDEN</textPath></text>
<path id="t17" d="M1403.7,2912.1 A1225 1225 0 0 0 2088.9,2906.1" fill="none"/>
<text font-size="53.8" fill="#000" text-anchor="middle"><textPath href="#t17" startOffset="50%" textLength="534.5" lengthAdjust="spacingAndGlyphs">VERENIGD VOORSCHOTEN</textPath></text>
<path id="t18" d="M2200,2866.7 A1225 1225 0 0 0 2783.2,2368.6" fill="none"/>
<text font-size="53.8" fill="#000" text-anchor="middle"><textPath href="#t18" startOffset="50%" textLength="620" lengthAdjust="spacingAndGlyphs">VEERKRACHTIG GEZOND</textPath></text>
</g>
</svg></body></html>
